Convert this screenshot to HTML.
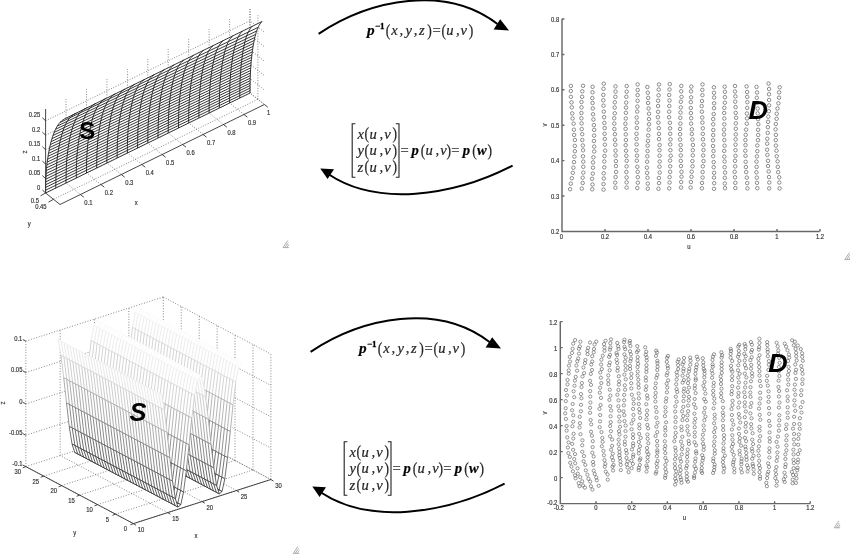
<!DOCTYPE html>
<html><head><meta charset="utf-8"><title>Surface parameterization</title>
<style>html,body{margin:0;padding:0;background:#fff}body{width:850px;height:554px;overflow:hidden;font-family:"Liberation Sans",sans-serif}svg{display:block;will-change:transform;opacity:.999}</style>
</head><body>
<svg width="850" height="554" viewBox="0 0 850 554">
<rect width="850" height="554" fill="#fff"/>
<path d="M66 183L66 99M80.4 194.5L66 183M86.5 173L86.5 89M100.9 184.5L86.5 173M106.9 163L106.9 79M121.3 174.5L106.9 163M127.4 153L127.4 69M141.8 164.5L127.4 153M147.8 143L147.8 59M162.2 154.5L147.8 143M168.2 133L168.2 49M182.6 144.5L168.2 133M188.7 123L188.7 39M203.1 134.5L188.7 123M209.1 113L209.1 29M223.5 124.5L209.1 113M229.6 103L229.6 19M244 114.5L229.6 103M250 93L250 9M264.4 104.5L250 93M45.6 193L250 93L264.4 104.5M45.6 178.6L250 78.5L264.4 90M45.6 164.1L250 64.1L264.4 75.6M45.6 149.7L250 49.7L264.4 61.2M45.6 135.2L250 35.2L264.4 46.7M45.6 120.8L250 20.8L264.4 32.2M250 93L250 9M257.9 99.3L257.9 15.3M53.5 199.3L257.9 99.3" fill="none" stroke="#555" stroke-width=".7" stroke-dasharray="1 1.6"/>
<path d="M45.6 193L45.6 190.7L45.6 188.4L45.6 186.1L45.7 183.9L45.7 181.6L45.8 179.4L45.9 177.2L46 175L46.2 172.8L46.3 170.6L46.5 168.5L46.7 166.3L46.9 164.2L47.2 162.1L47.5 160L47.8 158L48.1 155.9L48.4 153.9L48.8 151.9L49.2 149.9L49.6 147.9L50 146L50.5 144L50.9 142.1L51.5 140.2L52 138.4L52.6 136.6L53.2 134.8L53.9 133L54.6 131.3L55.4 129.6L56.2 128L57.1 126.4L58.1 124.9L59.2 123.4L60.4 122.1L61.7 120.8L63.2 119.7L64.8 118.7L66.6 117.9L262 21.5L260.9 22.7L260 24L259.1 25.4L258.4 26.8L257.7 28.3L257.1 29.8L256.5 31.4L256 33L255.6 34.7L255.1 36.3L254.7 38L254.3 39.8L254 41.5L253.6 43.3L253.3 45L253 46.8L252.8 48.6L252.5 50.4L252.3 52.3L252 54.1L251.8 56L251.6 57.8L251.4 59.7L251.2 61.6L251.1 63.5L250.9 65.4L250.8 67.3L250.6 69.2L250.5 71.1L250.4 73.1L250.3 75L250.2 77L250.2 79L250.1 80.9L250.1 82.9L250 84.9L250 86.9L250 89L250 91L250 93Z" fill="#fff" stroke="none"/>
<path d="M45.6 193L45.6 190.7L45.6 188.4L45.6 186.1L45.7 183.9L45.7 181.6L45.8 179.4L45.9 177.2L46 175L46.2 172.8L46.3 170.6L46.5 168.5L46.7 166.3L46.9 164.2L47.2 162.1L47.5 160L47.8 158L48.1 155.9L48.4 153.9L48.8 151.9L49.2 149.9L49.6 147.9L50 146L50.5 144L50.9 142.1L51.5 140.2L52 138.4L52.6 136.6L53.2 134.8L53.9 133L54.6 131.3L55.4 129.6L56.2 128L57.1 126.4L58.1 124.9L59.2 123.4L60.4 122.1L61.7 120.8L63.2 119.7L64.8 118.7L66.6 117.9M55.8 188L55.8 185.7L55.8 183.4L55.9 181.2L55.9 178.9L56 176.7L56 174.5L56.1 172.3L56.2 170.1L56.4 167.9L56.5 165.7L56.7 163.6L56.9 161.5L57.1 159.4L57.4 157.3L57.6 155.2L57.9 153.1L58.2 151.1L58.6 149.1L58.9 147.1L59.3 145.1L59.7 143.1L60.1 141.2L60.6 139.3L61.1 137.4L61.6 135.5L62.1 133.6L62.7 131.8L63.3 130L63.9 128.2L64.6 126.5L65.4 124.8L66.2 123.2L67.1 121.6L68.1 120.1L69.1 118.7L70.3 117.3L71.6 116.1L73 114.9L74.6 113.9L76.4 113.1M66 183L66 180.7L66.1 178.5L66.1 176.2L66.1 174L66.2 171.8L66.3 169.5L66.3 167.4L66.5 165.2L66.6 163L66.7 160.9L66.9 158.7L67.1 156.6L67.3 154.5L67.6 152.4L67.8 150.4L68.1 148.3L68.4 146.3L68.7 144.3L69.1 142.3L69.4 140.3L69.8 138.4L70.2 136.4L70.7 134.5L71.2 132.6L71.6 130.7L72.2 128.9L72.7 127L73.3 125.3L74 123.5L74.7 121.8L75.4 120.1L76.2 118.5L77.1 116.9L78 115.4L79 113.9L80.2 112.6L81.4 111.3L82.8 110.1L84.4 109.1L86.2 108.3M76.3 178L76.3 175.7L76.3 173.5L76.3 171.3L76.3 169L76.4 166.8L76.5 164.6L76.6 162.4L76.7 160.3L76.8 158.1L76.9 156L77.1 153.9L77.3 151.8L77.5 149.7L77.8 147.6L78 145.5L78.3 143.5L78.6 141.5L78.9 139.5L79.2 137.5L79.6 135.5L80 133.6L80.4 131.6L80.8 129.7L81.3 127.8L81.7 126L82.3 124.1L82.8 122.3L83.4 120.5L84 118.7L84.7 117L85.4 115.3L86.2 113.7L87 112.1L88 110.6L89 109.2L90.1 107.8L91.3 106.5L92.7 105.4L94.2 104.3L95.9 103.4M86.5 173L86.5 170.8L86.5 168.5L86.5 166.3L86.6 164.1L86.6 161.9L86.7 159.7L86.8 157.5L86.9 155.4L87 153.2L87.2 151.1L87.3 149L87.5 146.9L87.7 144.8L87.9 142.8L88.2 140.7L88.5 138.7L88.7 136.7L89.1 134.7L89.4 132.7L89.7 130.7L90.1 128.8L90.5 126.9L90.9 125L91.4 123.1L91.8 121.2L92.3 119.4L92.9 117.5L93.4 115.8L94.1 114L94.7 112.3L95.4 110.6L96.2 109L97 107.4L97.9 105.9L98.9 104.4L100 103L101.2 101.8L102.5 100.6L104 99.5L105.7 98.6M96.7 168L96.7 165.8L96.7 163.6L96.7 161.3L96.8 159.1L96.8 157L96.9 154.8L97 152.6L97.1 150.5L97.2 148.3L97.4 146.2L97.5 144.1L97.7 142L97.9 140L98.1 137.9L98.4 135.9L98.6 133.9L98.9 131.9L99.2 129.9L99.5 127.9L99.9 125.9L100.2 124L100.6 122.1L101 120.2L101.5 118.3L101.9 116.4L102.4 114.6L102.9 112.8L103.5 111L104.1 109.3L104.7 107.5L105.4 105.9L106.2 104.2L107 102.6L107.9 101.1L108.8 99.6L109.9 98.3L111.1 97L112.4 95.8L113.8 94.7L115.5 93.8M106.9 163L106.9 160.8L106.9 158.6L107 156.4L107 154.2L107 152L107.1 149.9L107.2 147.7L107.3 145.6L107.4 143.5L107.6 141.4L107.7 139.3L107.9 137.2L108.1 135.1L108.3 133.1L108.5 131.1L108.8 129.1L109.1 127.1L109.4 125.1L109.7 123.1L110 121.2L110.4 119.2L110.8 117.3L111.1 115.4L111.6 113.5L112 111.7L112.5 109.8L113 108L113.6 106.3L114.1 104.5L114.8 102.8L115.4 101.1L116.2 99.5L116.9 97.9L117.8 96.4L118.7 94.9L119.8 93.5L120.9 92.2L122.2 91L123.6 89.9L125.2 89M117.1 158L117.1 155.8L117.2 153.6L117.2 151.4L117.2 149.2L117.3 147.1L117.3 144.9L117.4 142.8L117.5 140.7L117.6 138.6L117.8 136.5L117.9 134.4L118.1 132.3L118.3 130.3L118.5 128.3L118.7 126.2L119 124.2L119.2 122.2L119.5 120.3L119.8 118.3L120.2 116.4L120.5 114.4L120.9 112.5L121.3 110.6L121.7 108.8L122.1 106.9L122.6 105.1L123.1 103.3L123.6 101.5L124.2 99.8L124.8 98L125.4 96.4L126.1 94.7L126.9 93.1L127.8 91.6L128.7 90.1L129.7 88.7L130.8 87.4L132 86.2L133.4 85.1L135 84.2M127.4 153L127.4 150.8L127.4 148.6L127.4 146.5L127.4 144.3L127.5 142.2L127.5 140L127.6 137.9L127.7 135.8L127.8 133.7L128 131.6L128.1 129.5L128.3 127.5L128.5 125.4L128.7 123.4L128.9 121.4L129.1 119.4L129.4 117.4L129.7 115.5L130 113.5L130.3 111.6L130.6 109.7L131 107.8L131.4 105.9L131.8 104L132.2 102.2L132.7 100.3L133.1 98.5L133.7 96.8L134.2 95L134.8 93.3L135.4 91.6L136.1 90L136.9 88.4L137.7 86.9L138.6 85.4L139.6 84L140.7 82.7L141.9 81.4L143.2 80.3L144.8 79.4M137.6 148L137.6 145.8L137.6 143.7L137.6 141.5L137.6 139.4L137.7 137.2L137.8 135.1L137.8 133L137.9 130.9L138 128.8L138.2 126.7L138.3 124.7L138.5 122.6L138.7 120.6L138.9 118.6L139.1 116.6L139.3 114.6L139.6 112.6L139.8 110.7L140.1 108.7L140.4 106.8L140.8 104.9L141.1 103L141.5 101.1L141.9 99.2L142.3 97.4L142.7 95.6L143.2 93.8L143.7 92L144.3 90.3L144.8 88.5L145.5 86.9L146.1 85.2L146.9 83.6L147.7 82.1L148.5 80.6L149.5 79.2L150.5 77.9L151.7 76.7L153 75.5L154.5 74.5M147.8 143L147.8 140.8L147.8 138.7L147.8 136.5L147.9 134.4L147.9 132.3L148 130.2L148 128.1L148.1 126L148.2 123.9L148.4 121.8L148.5 119.8L148.7 117.8L148.9 115.7L149.1 113.7L149.3 111.8L149.5 109.8L149.7 107.8L150 105.9L150.3 103.9L150.6 102L150.9 100.1L151.3 98.2L151.6 96.3L152 94.5L152.4 92.6L152.8 90.8L153.3 89L153.8 87.3L154.3 85.5L154.9 83.8L155.5 82.1L156.1 80.5L156.8 78.9L157.6 77.3L158.5 75.9L159.4 74.4L160.4 73.1L161.6 71.9L162.8 70.7L164.3 69.7M158 138L158 135.9L158 133.7L158.1 131.6L158.1 129.5L158.1 127.3L158.2 125.2L158.3 123.2L158.4 121.1L158.5 119L158.6 117L158.7 114.9L158.9 112.9L159 110.9L159.2 108.9L159.4 106.9L159.7 105L159.9 103L160.2 101.1L160.4 99.1L160.7 97.2L161 95.3L161.4 93.4L161.7 91.6L162.1 89.7L162.5 87.9L162.9 86.1L163.4 84.3L163.8 82.5L164.3 80.8L164.9 79.1L165.5 77.4L166.1 75.7L166.8 74.1L167.6 72.6L168.4 71.1L169.3 69.7L170.3 68.3L171.4 67.1L172.7 65.9L174.1 64.9M168.2 133L168.2 130.9L168.3 128.7L168.3 126.6L168.3 124.5L168.3 122.4L168.4 120.3L168.5 118.2L168.6 116.2L168.7 114.1L168.8 112.1L168.9 110.1L169.1 108.1L169.2 106.1L169.4 104.1L169.6 102.1L169.8 100.1L170.1 98.2L170.3 96.3L170.6 94.3L170.9 92.4L171.2 90.5L171.5 88.7L171.8 86.8L172.2 84.9L172.6 83.1L173 81.3L173.4 79.5L173.9 77.8L174.4 76L174.9 74.3L175.5 72.6L176.1 71L176.8 69.4L177.5 67.8L178.3 66.3L179.2 64.9L180.2 63.6L181.3 62.3L182.5 61.1L183.8 60.1M178.5 128L178.5 125.9L178.5 123.8L178.5 121.7L178.5 119.6L178.6 117.5L178.6 115.4L178.7 113.3L178.8 111.3L178.9 109.2L179 107.2L179.1 105.2L179.3 103.2L179.4 101.2L179.6 99.2L179.8 97.3L180 95.3L180.2 93.4L180.5 91.5L180.7 89.5L181 87.6L181.3 85.8L181.6 83.9L182 82L182.3 80.2L182.7 78.4L183.1 76.6L183.5 74.8L183.9 73L184.4 71.3L184.9 69.6L185.5 67.9L186.1 66.2L186.7 64.6L187.5 63.1L188.2 61.6L189.1 60.2L190 58.8L191.1 57.5L192.3 56.3L193.6 55.3M188.7 123L188.7 120.9L188.7 118.8L188.7 116.7L188.7 114.6L188.8 112.5L188.8 110.5L188.9 108.4L189 106.4L189.1 104.4L189.2 102.3L189.3 100.3L189.5 98.3L189.6 96.4L189.8 94.4L190 92.4L190.2 90.5L190.4 88.6L190.6 86.6L190.9 84.7L191.2 82.8L191.4 81L191.8 79.1L192.1 77.3L192.4 75.4L192.8 73.6L193.2 71.8L193.6 70L194 68.3L194.5 66.5L195 64.8L195.5 63.1L196.1 61.5L196.7 59.9L197.4 58.3L198.2 56.8L199 55.4L199.9 54L200.9 52.7L202.1 51.5L203.4 50.4M198.9 118L198.9 115.9L198.9 113.8L198.9 111.7L199 109.7L199 107.6L199 105.6L199.1 103.5L199.2 101.5L199.3 99.5L199.4 97.5L199.5 95.5L199.7 93.5L199.8 91.5L200 89.6L200.2 87.6L200.4 85.7L200.6 83.8L200.8 81.8L201 79.9L201.3 78.1L201.6 76.2L201.9 74.3L202.2 72.5L202.5 70.7L202.9 68.8L203.2 67L203.6 65.3L204.1 63.5L204.5 61.8L205 60.1L205.5 58.4L206.1 56.7L206.7 55.1L207.4 53.6L208.1 52.1L208.9 50.6L209.8 49.2L210.8 47.9L211.9 46.7L213.1 45.6M209.1 113L209.1 110.9L209.1 108.8L209.1 106.8L209.2 104.7L209.2 102.7L209.3 100.6L209.3 98.6L209.4 96.6L209.5 94.6L209.6 92.6L209.7 90.6L209.9 88.6L210 86.7L210.2 84.7L210.3 82.8L210.5 80.9L210.7 78.9L211 77L211.2 75.1L211.5 73.3L211.7 71.4L212 69.6L212.3 67.7L212.6 65.9L213 64.1L213.3 62.3L213.7 60.5L214.1 58.8L214.5 57L215 55.3L215.5 53.6L216.1 52L216.7 50.4L217.3 48.8L218 47.3L218.8 45.9L219.7 44.5L220.6 43.2L221.7 41.9L222.9 40.8M219.3 108L219.3 105.9L219.4 103.9L219.4 101.8L219.4 99.8L219.4 97.7L219.5 95.7L219.5 93.7L219.6 91.7L219.7 89.7L219.8 87.7L219.9 85.7L220 83.8L220.2 81.8L220.4 79.9L220.5 78L220.7 76L220.9 74.1L221.1 72.2L221.4 70.4L221.6 68.5L221.9 66.6L222.1 64.8L222.4 62.9L222.7 61.1L223.1 59.3L223.4 57.5L223.8 55.8L224.2 54L224.6 52.3L225 50.6L225.5 48.9L226.1 47.3L226.6 45.6L227.3 44.1L227.9 42.6L228.7 41.1L229.5 39.7L230.5 38.4L231.5 37.1L232.7 36M229.6 103L229.6 100.9L229.6 98.9L229.6 96.9L229.6 94.8L229.6 92.8L229.7 90.8L229.8 88.8L229.8 86.8L229.9 84.8L230 82.8L230.1 80.9L230.2 78.9L230.4 77L230.5 75L230.7 73.1L230.9 71.2L231.1 69.3L231.3 67.4L231.5 65.6L231.7 63.7L232 61.8L232.3 60L232.5 58.2L232.8 56.4L233.1 54.6L233.5 52.8L233.8 51L234.2 49.3L234.6 47.5L235.1 45.8L235.5 44.2L236 42.5L236.6 40.9L237.2 39.3L237.9 37.8L238.6 36.3L239.4 34.9L240.3 33.6L241.3 32.3L242.4 31.2M239.8 98L239.8 96L239.8 93.9L239.8 91.9L239.8 89.9L239.9 87.9L239.9 85.9L240 83.9L240 81.9L240.1 79.9L240.2 78L240.3 76L240.4 74.1L240.6 72.1L240.7 70.2L240.9 68.3L241.1 66.4L241.2 64.5L241.4 62.6L241.7 60.8L241.9 58.9L242.1 57.1L242.4 55.2L242.6 53.4L242.9 51.6L243.2 49.8L243.6 48L243.9 46.3L244.3 44.5L244.7 42.8L245.1 41.1L245.5 39.4L246 37.8L246.6 36.2L247.2 34.6L247.8 33L248.5 31.6L249.3 30.2L250.1 28.8L251.1 27.5L252.2 26.4M250 93L250 91L250 89L250 86.9L250 84.9L250.1 82.9L250.1 80.9L250.2 79L250.2 77L250.3 75L250.4 73.1L250.5 71.1L250.6 69.2L250.8 67.3L250.9 65.4L251.1 63.5L251.2 61.6L251.4 59.7L251.6 57.8L251.8 56L252 54.1L252.3 52.3L252.5 50.4L252.8 48.6L253 46.8L253.3 45L253.6 43.3L254 41.5L254.3 39.8L254.7 38L255.1 36.3L255.6 34.7L256 33L256.5 31.4L257.1 29.8L257.7 28.3L258.4 26.8L259.1 25.4L260 24L260.9 22.7L262 21.5M45.6 193L250 93M45.6 190.2L250 90.6M45.6 187.4L250 88.1M45.7 184.7L250 85.6M45.7 181.9L250.1 83.2M45.8 179.1L250.1 80.7M46 176.3L250.2 78.2M46.1 173.5L250.3 75.6M46.3 170.6L250.4 73.1M46.6 167.8L250.6 70.5M46.9 164.9L250.7 67.9M47.2 162.1L250.9 65.3M47.6 159.2L251.1 62.7M48 156.3L251.4 60M48.5 153.4L251.6 57.4M49 150.5L252 54.7M49.7 147.5L252.3 51.9M50.3 144.6L252.7 49.1M51.1 141.6L253.1 46.3M52 138.6L253.6 43.4M52.9 135.5L254.2 40.5M54.1 132.4L254.8 37.5M55.5 129.3L255.6 34.4M57.4 126L256.7 31M60 122.5L258.2 27.3M66.6 117.9L262 21.5" fill="none" stroke="#1c1c1c" stroke-width=".88"/>
<path d="M45.6 109L45.6 193L60 204.5L264.4 104.5M45.6 193l-3.2 -3M45.6 178.6l-3.2 -3M45.6 164.1l-3.2 -3M45.6 149.7l-3.2 -3M45.6 135.2l-3.2 -3M45.6 120.8l-3.2 -3M80.4 194.5l3.4 2.7M100.9 184.5l3.4 2.7M121.3 174.5l3.4 2.7M141.8 164.5l3.4 2.7M162.2 154.5l3.4 2.7M182.6 144.5l3.4 2.7M203.1 134.5l3.4 2.7M223.5 124.5l3.4 2.7M244 114.5l3.4 2.7M264.4 104.5l3.4 2.7M45.6 193l-5 2.8M53.5 199.3l-5 2.8" fill="none" stroke="#333" stroke-width=".9"/>
<g font-family="Liberation Sans, sans-serif" font-size="7" fill="#333" stroke="#333" stroke-width=".18">
<text transform="translate(40.2,189.6) scale(0.84,1)" text-anchor="end">0</text>
<text transform="translate(40.2,175.2) scale(0.84,1)" text-anchor="end">0.05</text>
<text transform="translate(40.2,160.7) scale(0.84,1)" text-anchor="end">0.1</text>
<text transform="translate(40.2,146.2) scale(0.84,1)" text-anchor="end">0.15</text>
<text transform="translate(40.2,131.8) scale(0.84,1)" text-anchor="end">0.2</text>
<text transform="translate(40.2,117.3) scale(0.84,1)" text-anchor="end">0.25</text>
<text transform="translate(88.4,204.7) scale(0.84,1)" text-anchor="middle">0.1</text>
<text transform="translate(108.9,194.7) scale(0.84,1)" text-anchor="middle">0.2</text>
<text transform="translate(129.3,184.7) scale(0.84,1)" text-anchor="middle">0.3</text>
<text transform="translate(149.8,174.7) scale(0.84,1)" text-anchor="middle">0.4</text>
<text transform="translate(170.2,164.7) scale(0.84,1)" text-anchor="middle">0.5</text>
<text transform="translate(190.6,154.7) scale(0.84,1)" text-anchor="middle">0.6</text>
<text transform="translate(211.1,144.7) scale(0.84,1)" text-anchor="middle">0.7</text>
<text transform="translate(231.5,134.7) scale(0.84,1)" text-anchor="middle">0.8</text>
<text transform="translate(252,124.7) scale(0.84,1)" text-anchor="middle">0.9</text>
<text transform="translate(268.6,114.7) scale(0.84,1)" text-anchor="middle">1</text>
<text transform="translate(39,202.6) scale(0.84,1)" text-anchor="end">0.5</text>
<text transform="translate(46.6,209) scale(0.84,1)" text-anchor="end">0.45</text>
<text transform="translate(136.2,204.6) scale(0.84,1)" text-anchor="middle">x</text>
<text transform="translate(29.3,226.4) scale(0.84,1)" text-anchor="middle">y</text>
<text transform="translate(26.5,152) rotate(-90) scale(0.84,1)" text-anchor="middle">z</text>
</g>
<text x="79.3" y="139" font-family="Liberation Sans, sans-serif" font-size="24" font-weight="bold" fill="#000">S</text>
<path d="M562 18.8L562 231.4L819.6 231.4M562 231.4l0 -2.4M562 231.4l2.4 0M605 231.4l0 -2.4M562 196l2.4 0M648 231.4l0 -2.4M562 160.6l2.4 0M691 231.4l0 -2.4M562 125.2l2.4 0M734 231.4l0 -2.4M562 89.8l2.4 0M777 231.4l0 -2.4M562 54.4l2.4 0M820 231.4l0 -2.4M562 19l2.4 0" fill="none" stroke="#686868" stroke-width="1.45"/>
<g font-family="Liberation Sans, sans-serif" font-size="7" fill="#333" stroke="#333" stroke-width=".18">
<text transform="translate(561.4,239.4) scale(0.84,1)" text-anchor="middle">0</text>
<text transform="translate(605,239.4) scale(0.84,1)" text-anchor="middle">0.2</text>
<text transform="translate(648,239.4) scale(0.84,1)" text-anchor="middle">0.4</text>
<text transform="translate(691,239.4) scale(0.84,1)" text-anchor="middle">0.6</text>
<text transform="translate(734,239.4) scale(0.84,1)" text-anchor="middle">0.8</text>
<text transform="translate(777,239.4) scale(0.84,1)" text-anchor="middle">1</text>
<text transform="translate(820,239.4) scale(0.84,1)" text-anchor="middle">1.2</text>
<text transform="translate(559.2,234) scale(0.84,1)" text-anchor="end">0.2</text>
<text transform="translate(559.2,198.6) scale(0.84,1)" text-anchor="end">0.3</text>
<text transform="translate(559.2,163.2) scale(0.84,1)" text-anchor="end">0.4</text>
<text transform="translate(559.2,127.8) scale(0.84,1)" text-anchor="end">0.5</text>
<text transform="translate(559.2,92.4) scale(0.84,1)" text-anchor="end">0.6</text>
<text transform="translate(559.2,57) scale(0.84,1)" text-anchor="end">0.7</text>
<text transform="translate(559.2,21.6) scale(0.84,1)" text-anchor="end">0.8</text>
<text transform="translate(689,249) scale(0.84,1)" text-anchor="middle">u</text>
<text transform="translate(546.5,125) rotate(-90) scale(0.84,1)" text-anchor="middle">v</text>
</g>
<g fill="none" stroke="#5e5e5e" stroke-width="0.7">
<circle cx="570.9" cy="85.9" r="1.75"/><circle cx="570.8" cy="91" r="1.75"/><circle cx="570.9" cy="96.8" r="1.75"/><circle cx="571.5" cy="102.4" r="1.75"/><circle cx="571.8" cy="107.4" r="1.75"/><circle cx="572.2" cy="113.4" r="1.75"/><circle cx="572.6" cy="118.5" r="1.75"/><circle cx="573.6" cy="123.7" r="1.75"/><circle cx="573.9" cy="129.7" r="1.75"/><circle cx="574.1" cy="134.9" r="1.75"/><circle cx="574.9" cy="140" r="1.75"/><circle cx="574.8" cy="145.9" r="1.75"/><circle cx="574.9" cy="151.2" r="1.75"/><circle cx="574.4" cy="156.6" r="1.75"/><circle cx="574" cy="162.1" r="1.75"/><circle cx="573.4" cy="167.7" r="1.75"/><circle cx="572.8" cy="172.8" r="1.75"/><circle cx="571.8" cy="178.2" r="1.75"/><circle cx="570.8" cy="183.7" r="1.75"/><circle cx="570.1" cy="189.2" r="1.75"/><circle cx="583" cy="85.8" r="1.75"/><circle cx="582.3" cy="91.3" r="1.75"/><circle cx="582.1" cy="96.8" r="1.75"/><circle cx="581.5" cy="102" r="1.75"/><circle cx="581.5" cy="107.4" r="1.75"/><circle cx="581.4" cy="113" r="1.75"/><circle cx="581.4" cy="118.3" r="1.75"/><circle cx="581.6" cy="123.4" r="1.75"/><circle cx="581.7" cy="129.1" r="1.75"/><circle cx="582.2" cy="134.2" r="1.75"/><circle cx="582.3" cy="140" r="1.75"/><circle cx="582.8" cy="145.5" r="1.75"/><circle cx="583.1" cy="150.3" r="1.75"/><circle cx="583" cy="156.3" r="1.75"/><circle cx="583.3" cy="161.6" r="1.75"/><circle cx="583.3" cy="166.8" r="1.75"/><circle cx="583.3" cy="172.6" r="1.75"/><circle cx="582.7" cy="177.7" r="1.75"/><circle cx="582.7" cy="183" r="1.75"/><circle cx="581.8" cy="188.6" r="1.75"/><circle cx="592.6" cy="86.8" r="1.75"/><circle cx="592.5" cy="92.3" r="1.75"/><circle cx="592.3" cy="98.1" r="1.75"/><circle cx="592.6" cy="103" r="1.75"/><circle cx="592.8" cy="108.4" r="1.75"/><circle cx="593" cy="114.3" r="1.75"/><circle cx="593.4" cy="119.5" r="1.75"/><circle cx="593.9" cy="125.1" r="1.75"/><circle cx="594.2" cy="129.9" r="1.75"/><circle cx="594.1" cy="135.6" r="1.75"/><circle cx="593.9" cy="141" r="1.75"/><circle cx="594.2" cy="146.6" r="1.75"/><circle cx="594.2" cy="151.5" r="1.75"/><circle cx="593.4" cy="157.3" r="1.75"/><circle cx="593" cy="162.4" r="1.75"/><circle cx="593" cy="167.7" r="1.75"/><circle cx="592.8" cy="173.6" r="1.75"/><circle cx="592.1" cy="178.8" r="1.75"/><circle cx="592.5" cy="184.5" r="1.75"/><circle cx="592.2" cy="189.3" r="1.75"/><circle cx="603.8" cy="83.7" r="1.75"/><circle cx="603.5" cy="88.8" r="1.75"/><circle cx="603.3" cy="94.9" r="1.75"/><circle cx="603.3" cy="100.3" r="1.75"/><circle cx="603.5" cy="105.7" r="1.75"/><circle cx="603.8" cy="111.6" r="1.75"/><circle cx="604.1" cy="117.2" r="1.75"/><circle cx="604.4" cy="122.9" r="1.75"/><circle cx="604.7" cy="128.1" r="1.75"/><circle cx="604.6" cy="133.8" r="1.75"/><circle cx="604.8" cy="139" r="1.75"/><circle cx="604.9" cy="144.7" r="1.75"/><circle cx="605.2" cy="150.6" r="1.75"/><circle cx="604.5" cy="156.1" r="1.75"/><circle cx="604.3" cy="161.5" r="1.75"/><circle cx="604.3" cy="167.3" r="1.75"/><circle cx="603.7" cy="173.3" r="1.75"/><circle cx="603.8" cy="178.5" r="1.75"/><circle cx="603.5" cy="184.1" r="1.75"/><circle cx="603.5" cy="189.6" r="1.75"/><circle cx="615.5" cy="86.4" r="1.75"/><circle cx="615.5" cy="91.6" r="1.75"/><circle cx="615.4" cy="96.8" r="1.75"/><circle cx="614.8" cy="102.3" r="1.75"/><circle cx="614.7" cy="107.5" r="1.75"/><circle cx="614.8" cy="113.3" r="1.75"/><circle cx="614.2" cy="118.3" r="1.75"/><circle cx="614.3" cy="123.6" r="1.75"/><circle cx="614.4" cy="129" r="1.75"/><circle cx="614.9" cy="134.2" r="1.75"/><circle cx="615" cy="139.7" r="1.75"/><circle cx="615.3" cy="144.7" r="1.75"/><circle cx="615.5" cy="150.6" r="1.75"/><circle cx="615.7" cy="155.5" r="1.75"/><circle cx="615.9" cy="161.1" r="1.75"/><circle cx="615.9" cy="166" r="1.75"/><circle cx="616.1" cy="171.9" r="1.75"/><circle cx="615.6" cy="177" r="1.75"/><circle cx="615.2" cy="182.6" r="1.75"/><circle cx="615.4" cy="187.7" r="1.75"/><circle cx="626.7" cy="86.1" r="1.75"/><circle cx="626.7" cy="91.7" r="1.75"/><circle cx="626.3" cy="96.8" r="1.75"/><circle cx="626.2" cy="102.6" r="1.75"/><circle cx="626" cy="107.6" r="1.75"/><circle cx="625.9" cy="112.8" r="1.75"/><circle cx="625.8" cy="118.5" r="1.75"/><circle cx="625.4" cy="123.8" r="1.75"/><circle cx="625.6" cy="128.9" r="1.75"/><circle cx="625.8" cy="134.4" r="1.75"/><circle cx="625.9" cy="140" r="1.75"/><circle cx="625.7" cy="145.2" r="1.75"/><circle cx="626" cy="150.7" r="1.75"/><circle cx="626.3" cy="155.8" r="1.75"/><circle cx="626.7" cy="160.8" r="1.75"/><circle cx="626.6" cy="166.4" r="1.75"/><circle cx="626.4" cy="172" r="1.75"/><circle cx="626.6" cy="177.4" r="1.75"/><circle cx="626.6" cy="182.4" r="1.75"/><circle cx="626.6" cy="187.6" r="1.75"/><circle cx="637.6" cy="84.4" r="1.75"/><circle cx="637.7" cy="90" r="1.75"/><circle cx="637.6" cy="95.1" r="1.75"/><circle cx="637.6" cy="100.8" r="1.75"/><circle cx="637.4" cy="106.6" r="1.75"/><circle cx="637.2" cy="111.5" r="1.75"/><circle cx="636.7" cy="117.5" r="1.75"/><circle cx="636.9" cy="122.6" r="1.75"/><circle cx="636.8" cy="128" r="1.75"/><circle cx="636.5" cy="133.8" r="1.75"/><circle cx="636.5" cy="138.9" r="1.75"/><circle cx="636.6" cy="144.4" r="1.75"/><circle cx="636.4" cy="150.3" r="1.75"/><circle cx="637" cy="155.6" r="1.75"/><circle cx="636.8" cy="160.7" r="1.75"/><circle cx="637.3" cy="166.8" r="1.75"/><circle cx="637.7" cy="171.8" r="1.75"/><circle cx="637.8" cy="177.2" r="1.75"/><circle cx="637.8" cy="182.7" r="1.75"/><circle cx="637.3" cy="188" r="1.75"/><circle cx="647.4" cy="87" r="1.75"/><circle cx="647.8" cy="92.7" r="1.75"/><circle cx="648.2" cy="97.9" r="1.75"/><circle cx="648.1" cy="103" r="1.75"/><circle cx="648.6" cy="108.5" r="1.75"/><circle cx="649" cy="113.7" r="1.75"/><circle cx="649" cy="119.1" r="1.75"/><circle cx="649" cy="124.3" r="1.75"/><circle cx="648.7" cy="129.6" r="1.75"/><circle cx="648.2" cy="135.5" r="1.75"/><circle cx="648" cy="140.8" r="1.75"/><circle cx="647.7" cy="145.6" r="1.75"/><circle cx="647.6" cy="151" r="1.75"/><circle cx="647.3" cy="156.3" r="1.75"/><circle cx="647.1" cy="161.7" r="1.75"/><circle cx="646.9" cy="167.6" r="1.75"/><circle cx="647.1" cy="172.8" r="1.75"/><circle cx="647.5" cy="177.7" r="1.75"/><circle cx="647.8" cy="183.6" r="1.75"/><circle cx="647.8" cy="188.7" r="1.75"/><circle cx="659" cy="84.5" r="1.75"/><circle cx="658.7" cy="89.6" r="1.75"/><circle cx="658.6" cy="95.3" r="1.75"/><circle cx="658.1" cy="100.7" r="1.75"/><circle cx="658.1" cy="106" r="1.75"/><circle cx="658.1" cy="111.8" r="1.75"/><circle cx="657.9" cy="117.2" r="1.75"/><circle cx="658.4" cy="122.7" r="1.75"/><circle cx="658.8" cy="128.2" r="1.75"/><circle cx="659" cy="133.9" r="1.75"/><circle cx="659" cy="139.1" r="1.75"/><circle cx="659.6" cy="145.1" r="1.75"/><circle cx="659.5" cy="150.2" r="1.75"/><circle cx="659.6" cy="155.7" r="1.75"/><circle cx="659.7" cy="161.5" r="1.75"/><circle cx="659.5" cy="166.7" r="1.75"/><circle cx="659.7" cy="172.5" r="1.75"/><circle cx="658.9" cy="178" r="1.75"/><circle cx="659" cy="183.1" r="1.75"/><circle cx="658.5" cy="188.8" r="1.75"/><circle cx="669.8" cy="84.1" r="1.75"/><circle cx="669.5" cy="89.5" r="1.75"/><circle cx="669.2" cy="95" r="1.75"/><circle cx="669.5" cy="100.5" r="1.75"/><circle cx="669.3" cy="106" r="1.75"/><circle cx="669.2" cy="111.7" r="1.75"/><circle cx="669.1" cy="117.2" r="1.75"/><circle cx="669.9" cy="122.8" r="1.75"/><circle cx="670.1" cy="128.3" r="1.75"/><circle cx="670.2" cy="133.8" r="1.75"/><circle cx="670.5" cy="139.4" r="1.75"/><circle cx="670.2" cy="144.4" r="1.75"/><circle cx="670.4" cy="150.2" r="1.75"/><circle cx="670.7" cy="155.7" r="1.75"/><circle cx="670.1" cy="160.6" r="1.75"/><circle cx="670.2" cy="166.3" r="1.75"/><circle cx="670.1" cy="171.8" r="1.75"/><circle cx="669.6" cy="177.1" r="1.75"/><circle cx="669.6" cy="182.5" r="1.75"/><circle cx="669.2" cy="188.4" r="1.75"/><circle cx="681.3" cy="85.9" r="1.75"/><circle cx="681.2" cy="91.3" r="1.75"/><circle cx="681.5" cy="96.9" r="1.75"/><circle cx="680.8" cy="101.8" r="1.75"/><circle cx="680.8" cy="107.4" r="1.75"/><circle cx="680.5" cy="112.5" r="1.75"/><circle cx="680.3" cy="117.8" r="1.75"/><circle cx="680.4" cy="123.6" r="1.75"/><circle cx="680.1" cy="128.9" r="1.75"/><circle cx="680.1" cy="134.2" r="1.75"/><circle cx="680.1" cy="139.5" r="1.75"/><circle cx="680.6" cy="145.1" r="1.75"/><circle cx="680.8" cy="150" r="1.75"/><circle cx="680.8" cy="155.5" r="1.75"/><circle cx="680.8" cy="160.9" r="1.75"/><circle cx="681" cy="166.1" r="1.75"/><circle cx="681.5" cy="171.8" r="1.75"/><circle cx="681.5" cy="176.7" r="1.75"/><circle cx="681.2" cy="182" r="1.75"/><circle cx="681" cy="187.5" r="1.75"/><circle cx="691.3" cy="86.6" r="1.75"/><circle cx="691" cy="91.4" r="1.75"/><circle cx="691.1" cy="97.3" r="1.75"/><circle cx="690.8" cy="102.1" r="1.75"/><circle cx="690.8" cy="108" r="1.75"/><circle cx="690.9" cy="113.1" r="1.75"/><circle cx="691.2" cy="118.2" r="1.75"/><circle cx="691.1" cy="123.6" r="1.75"/><circle cx="691.9" cy="129.3" r="1.75"/><circle cx="691.8" cy="134" r="1.75"/><circle cx="692.4" cy="139.5" r="1.75"/><circle cx="692.9" cy="145" r="1.75"/><circle cx="692.8" cy="150.2" r="1.75"/><circle cx="692.8" cy="155.4" r="1.75"/><circle cx="692.4" cy="161.1" r="1.75"/><circle cx="692.5" cy="166.3" r="1.75"/><circle cx="691.7" cy="171.7" r="1.75"/><circle cx="691.5" cy="176.8" r="1.75"/><circle cx="690.9" cy="182" r="1.75"/><circle cx="690.6" cy="187.6" r="1.75"/><circle cx="702.5" cy="84.4" r="1.75"/><circle cx="702.3" cy="89.9" r="1.75"/><circle cx="702.4" cy="95.2" r="1.75"/><circle cx="702" cy="101" r="1.75"/><circle cx="701.7" cy="106.1" r="1.75"/><circle cx="701.9" cy="111.7" r="1.75"/><circle cx="702.2" cy="117.5" r="1.75"/><circle cx="702.4" cy="122.6" r="1.75"/><circle cx="702.8" cy="128.3" r="1.75"/><circle cx="702.8" cy="133.9" r="1.75"/><circle cx="703" cy="139.3" r="1.75"/><circle cx="703.4" cy="144.7" r="1.75"/><circle cx="703.5" cy="150" r="1.75"/><circle cx="703.2" cy="155.5" r="1.75"/><circle cx="703.5" cy="161.1" r="1.75"/><circle cx="702.8" cy="166.3" r="1.75"/><circle cx="702.6" cy="172" r="1.75"/><circle cx="702.6" cy="177.5" r="1.75"/><circle cx="702" cy="182.9" r="1.75"/><circle cx="701.9" cy="188.3" r="1.75"/><circle cx="713.9" cy="87.3" r="1.75"/><circle cx="714" cy="92.8" r="1.75"/><circle cx="714.1" cy="97.5" r="1.75"/><circle cx="714.1" cy="103.3" r="1.75"/><circle cx="714" cy="108.2" r="1.75"/><circle cx="713.7" cy="114.1" r="1.75"/><circle cx="713.2" cy="119.1" r="1.75"/><circle cx="713.2" cy="124.3" r="1.75"/><circle cx="713.3" cy="130" r="1.75"/><circle cx="713.2" cy="135.1" r="1.75"/><circle cx="713" cy="140.3" r="1.75"/><circle cx="713" cy="146" r="1.75"/><circle cx="713.5" cy="151" r="1.75"/><circle cx="713.2" cy="156.2" r="1.75"/><circle cx="713.7" cy="162.1" r="1.75"/><circle cx="713.7" cy="167.2" r="1.75"/><circle cx="714.1" cy="172.8" r="1.75"/><circle cx="714" cy="177.6" r="1.75"/><circle cx="714.2" cy="183.2" r="1.75"/><circle cx="714" cy="188.8" r="1.75"/><circle cx="724.7" cy="86.7" r="1.75"/><circle cx="724.9" cy="91.8" r="1.75"/><circle cx="724.9" cy="97.2" r="1.75"/><circle cx="724.9" cy="102.7" r="1.75"/><circle cx="724.3" cy="107.8" r="1.75"/><circle cx="724.2" cy="113" r="1.75"/><circle cx="724.3" cy="118.5" r="1.75"/><circle cx="724.3" cy="124.3" r="1.75"/><circle cx="724" cy="129.6" r="1.75"/><circle cx="724" cy="134.5" r="1.75"/><circle cx="724.3" cy="140.1" r="1.75"/><circle cx="724.6" cy="145.7" r="1.75"/><circle cx="724.2" cy="150.9" r="1.75"/><circle cx="724.3" cy="156.6" r="1.75"/><circle cx="724.6" cy="161.5" r="1.75"/><circle cx="724.6" cy="167.2" r="1.75"/><circle cx="725.1" cy="172.5" r="1.75"/><circle cx="724.8" cy="177.8" r="1.75"/><circle cx="724.8" cy="183.5" r="1.75"/><circle cx="725" cy="188.2" r="1.75"/><circle cx="735" cy="86" r="1.75"/><circle cx="735" cy="91.5" r="1.75"/><circle cx="735.4" cy="96.4" r="1.75"/><circle cx="735.2" cy="101.7" r="1.75"/><circle cx="735.6" cy="107.1" r="1.75"/><circle cx="735.7" cy="112.9" r="1.75"/><circle cx="736.1" cy="117.8" r="1.75"/><circle cx="735.8" cy="123.4" r="1.75"/><circle cx="735.8" cy="128.8" r="1.75"/><circle cx="735.8" cy="134.4" r="1.75"/><circle cx="735.6" cy="139.4" r="1.75"/><circle cx="735.5" cy="144.7" r="1.75"/><circle cx="735.5" cy="150.2" r="1.75"/><circle cx="735.5" cy="155.9" r="1.75"/><circle cx="735" cy="160.8" r="1.75"/><circle cx="735.2" cy="166.4" r="1.75"/><circle cx="734.7" cy="171.8" r="1.75"/><circle cx="735" cy="177.3" r="1.75"/><circle cx="735.3" cy="182.8" r="1.75"/><circle cx="735.3" cy="188.1" r="1.75"/><circle cx="746.6" cy="86.4" r="1.75"/><circle cx="747.1" cy="92" r="1.75"/><circle cx="747.2" cy="96.9" r="1.75"/><circle cx="747.3" cy="102.2" r="1.75"/><circle cx="747.2" cy="107.9" r="1.75"/><circle cx="746.9" cy="113.5" r="1.75"/><circle cx="747" cy="118.4" r="1.75"/><circle cx="746.8" cy="123.7" r="1.75"/><circle cx="746.1" cy="129.6" r="1.75"/><circle cx="745.7" cy="134.8" r="1.75"/><circle cx="745.4" cy="140" r="1.75"/><circle cx="745.5" cy="145.1" r="1.75"/><circle cx="745.3" cy="150.7" r="1.75"/><circle cx="745.5" cy="155.8" r="1.75"/><circle cx="745.7" cy="161.8" r="1.75"/><circle cx="745.9" cy="167" r="1.75"/><circle cx="746.2" cy="172.1" r="1.75"/><circle cx="746.8" cy="177.6" r="1.75"/><circle cx="747.2" cy="183.1" r="1.75"/><circle cx="747.4" cy="188.4" r="1.75"/><circle cx="756.5" cy="86.9" r="1.75"/><circle cx="757" cy="92.5" r="1.75"/><circle cx="756.8" cy="97.8" r="1.75"/><circle cx="757.1" cy="103" r="1.75"/><circle cx="757.7" cy="108.5" r="1.75"/><circle cx="757.7" cy="113.4" r="1.75"/><circle cx="758.1" cy="119.2" r="1.75"/><circle cx="758.3" cy="124.2" r="1.75"/><circle cx="758.1" cy="129.8" r="1.75"/><circle cx="758.2" cy="135" r="1.75"/><circle cx="758" cy="140.2" r="1.75"/><circle cx="757.3" cy="145.5" r="1.75"/><circle cx="757.3" cy="151.2" r="1.75"/><circle cx="756.9" cy="156.4" r="1.75"/><circle cx="756.5" cy="161.6" r="1.75"/><circle cx="756.6" cy="166.9" r="1.75"/><circle cx="756.4" cy="172.3" r="1.75"/><circle cx="756.8" cy="177.6" r="1.75"/><circle cx="757" cy="182.8" r="1.75"/><circle cx="757.3" cy="188.2" r="1.75"/><circle cx="768.6" cy="83.6" r="1.75"/><circle cx="769.1" cy="89" r="1.75"/><circle cx="769" cy="94.3" r="1.75"/><circle cx="769.1" cy="100" r="1.75"/><circle cx="769.1" cy="105.4" r="1.75"/><circle cx="768.9" cy="111.2" r="1.75"/><circle cx="768.3" cy="116.6" r="1.75"/><circle cx="768.1" cy="121.8" r="1.75"/><circle cx="767.9" cy="127.2" r="1.75"/><circle cx="767.7" cy="132.9" r="1.75"/><circle cx="767.3" cy="138.8" r="1.75"/><circle cx="767.2" cy="143.7" r="1.75"/><circle cx="767.1" cy="149.7" r="1.75"/><circle cx="767.4" cy="154.9" r="1.75"/><circle cx="768" cy="160.8" r="1.75"/><circle cx="768" cy="166" r="1.75"/><circle cx="768.7" cy="171.5" r="1.75"/><circle cx="769" cy="177.1" r="1.75"/><circle cx="769.3" cy="182.5" r="1.75"/><circle cx="769.2" cy="188.4" r="1.75"/><circle cx="779.7" cy="87.3" r="1.75"/><circle cx="779.1" cy="92.4" r="1.75"/><circle cx="779" cy="97.7" r="1.75"/><circle cx="778.4" cy="103.3" r="1.75"/><circle cx="777.5" cy="108.5" r="1.75"/><circle cx="776.7" cy="113.7" r="1.75"/><circle cx="776.6" cy="118.8" r="1.75"/><circle cx="775.8" cy="124" r="1.75"/><circle cx="775.6" cy="129.4" r="1.75"/><circle cx="775.9" cy="134.9" r="1.75"/><circle cx="775.8" cy="140.1" r="1.75"/><circle cx="775.9" cy="145.6" r="1.75"/><circle cx="776.5" cy="150.7" r="1.75"/><circle cx="776.7" cy="156.3" r="1.75"/><circle cx="777.6" cy="161.4" r="1.75"/><circle cx="777.8" cy="166.9" r="1.75"/><circle cx="778.2" cy="172.2" r="1.75"/><circle cx="779.2" cy="177.3" r="1.75"/><circle cx="779.3" cy="182.5" r="1.75"/><circle cx="779.6" cy="188.4" r="1.75"/>
</g>
<text transform="translate(748.4,118.8) scale(1.08,1)" font-family="Liberation Sans, sans-serif" font-size="25" font-weight="bold" font-style="italic" fill="#000">D</text>
<path d="M25.8 466.6L163.3 422.5M163.3 422.5L270.9 479.5M25.8 435.2L163.3 391.1M163.3 391.1L270.9 448.1M25.8 403.9L163.3 359.8M163.3 359.8L270.9 416.8M25.8 372.5L163.3 328.4M163.3 328.4L270.9 385.4M25.8 341.1L163.3 297M163.3 297L270.9 354M25.8 466.6L25.8 341.1M133.4 523.6L25.8 466.6M60.2 455.6L60.2 330.1M167.8 512.6L60.2 455.6M94.5 444.6L94.5 319.1M202.2 501.6L94.5 444.6M128.9 433.5L128.9 308M236.5 490.5L128.9 433.5M163.3 422.5L163.3 297M270.9 479.5L163.3 422.5M270.9 479.5L270.9 354M133.4 523.6L270.9 479.5M253 470L253 344.5M115.5 514.1L253 470M235 460.5L235 335M97.5 504.6L235 460.5M217.1 451L217.1 325.5M79.6 495.1L217.1 451M199.2 441.5L199.2 316M61.7 485.6L199.2 441.5M181.2 432L181.2 306.5M43.7 476.1L181.2 432" fill="none" stroke="#555" stroke-width=".7" stroke-dasharray="1 1.7"/>
<path d="M238.5 367L241.3 362.1L138 307.3L135.2 312.3Z" fill="#fff"/>
<path d="M241.3 362.1L138 307.3" stroke="#fafafa" stroke-width=".78" fill="none"/>
<path d="M238.5 367L241.3 362.1M235.6 365.5L238.3 360.5M232.6 363.9L235.4 358.9M229.7 362.3L232.4 357.4M226.7 360.8L229.5 355.8M223.8 359.2L226.5 354.2M220.8 357.6L223.6 352.7M217.9 356.1L220.6 351.1M214.9 354.5L217.7 349.6M212 353L214.7 348M209 351.4L211.8 346.4M206.1 349.8L208.8 344.9M203.1 348.3L205.9 343.3M200.2 346.7L202.9 341.7M197.2 345.1L200 340.2M194.2 343.6L197 338.6M191.3 342L194 337.1M188.3 340.5L191.1 335.5M185.4 338.9L188.1 333.9M182.4 337.3L185.2 332.4M179.5 335.8L182.2 330.8M176.5 334.2L179.3 329.2M173.6 332.6L176.3 327.7M170.6 331.1L173.4 326.1M167.7 329.5L170.4 324.5M164.7 327.9L167.5 323M161.8 326.4L164.5 321.4M158.8 324.8L161.6 319.9M155.9 323.3L158.6 318.3M152.9 321.7L155.7 316.7M150 320.1L152.7 315.2M147 318.6L149.8 313.6M144.1 317L146.8 312M141.1 315.4L143.9 310.5M138.2 313.9L140.9 308.9M135.2 312.3L138 307.3" stroke="#f6f6f6" stroke-width=".78" fill="none"/>
<path d="M238.5 367L135.2 312.3" stroke="#f3f3f3" stroke-width=".78" fill="none"/>
<path d="M235.8 382.1L238.5 367L135.2 312.3L132.5 327.4Z" fill="#fff"/>
<path d="M238.5 367L135.2 312.3" stroke="#f3f3f3" stroke-width=".78" fill="none"/>
<path d="M235.8 382.1L238.5 367M232.8 380.6L235.6 365.5M229.9 379L232.6 363.9M226.9 377.4L229.7 362.3M224 375.9L226.7 360.8M221 374.3L223.8 359.2M218.1 372.7L220.8 357.6M215.1 371.2L217.9 356.1M212.2 369.6L214.9 354.5M209.2 368.1L212 353M206.3 366.5L209 351.4M203.3 364.9L206.1 349.8M200.4 363.4L203.1 348.3M197.4 361.8L200.2 346.7M194.5 360.2L197.2 345.1M191.5 358.7L194.2 343.6M188.5 357.1L191.3 342M185.6 355.5L188.3 340.5M182.6 354L185.4 338.9M179.7 352.4L182.4 337.3M176.7 350.9L179.5 335.8M173.8 349.3L176.5 334.2M170.8 347.7L173.6 332.6M167.9 346.2L170.6 331.1M164.9 344.6L167.7 329.5M162 343L164.7 327.9M159 341.5L161.8 326.4M156.1 339.9L158.8 324.8M153.1 338.3L155.9 323.3M150.2 336.8L152.9 321.7M147.2 335.2L150 320.1M144.3 333.7L147 318.6M141.3 332.1L144.1 317M138.4 330.5L141.1 315.4M135.4 329L138.2 313.9M132.5 327.4L135.2 312.3" stroke="#e7e7e7" stroke-width=".78" fill="none"/>
<path d="M235.8 382.1L132.5 327.4" stroke="#dbdbdb" stroke-width=".78" fill="none"/>
<path d="M233 404.9L235.8 382.1L132.5 327.4L129.7 350.2Z" fill="#fff"/>
<path d="M235.8 382.1L132.5 327.4" stroke="#dbdbdb" stroke-width=".78" fill="none"/>
<path d="M233 404.9L235.8 382.1M230.1 403.3L232.8 380.6M227.1 401.8L229.9 379M224.2 400.2L226.9 377.4M221.2 398.6L224 375.9M218.3 397.1L221 374.3M215.3 395.5L218.1 372.7M212.4 393.9L215.1 371.2M209.4 392.4L212.2 369.6M206.5 390.8L209.2 368.1M203.5 389.3L206.3 366.5M200.6 387.7L203.3 364.9M197.6 386.1L200.4 363.4M194.7 384.6L197.4 361.8M191.7 383L194.5 360.2M188.7 381.4L191.5 358.7M185.8 379.9L188.5 357.1M182.8 378.3L185.6 355.5M179.9 376.7L182.6 354M176.9 375.2L179.7 352.4M174 373.6L176.7 350.9M171 372.1L173.8 349.3M168.1 370.5L170.8 347.7M165.1 368.9L167.9 346.2M162.2 367.4L164.9 344.6M159.2 365.8L162 343M156.3 364.2L159 341.5M153.3 362.7L156.1 339.9M150.4 361.1L153.1 338.3M147.4 359.5L150.2 336.8M144.5 358L147.2 335.2M141.5 356.4L144.3 333.7M138.6 354.9L141.3 332.1M135.6 353.3L138.4 330.5M132.7 351.7L135.4 329M129.7 350.2L132.5 327.4" stroke="#c8c8c8" stroke-width=".78" fill="none"/>
<path d="M233 404.9L129.7 350.2" stroke="#b6b6b6" stroke-width=".78" fill="none"/>
<path d="M230.3 431.5L233 404.9L129.7 350.2L127 376.8Z" fill="#fff"/>
<path d="M233 404.9L129.7 350.2" stroke="#b6b6b6" stroke-width=".78" fill="none"/>
<path d="M230.3 431.5L233 404.9M227.3 430L230.1 403.3M224.4 428.4L227.1 401.8M221.4 426.9L224.2 400.2M218.5 425.3L221.2 398.6M215.5 423.7L218.3 397.1M212.6 422.2L215.3 395.5M209.6 420.6L212.4 393.9M206.7 419L209.4 392.4M203.7 417.5L206.5 390.8M200.8 415.9L203.5 389.3M197.8 414.3L200.6 387.7M194.9 412.8L197.6 386.1M191.9 411.2L194.7 384.6M189 409.7L191.7 383M186 408.1L188.7 381.4M183 406.5L185.8 379.9M180.1 405L182.8 378.3M177.1 403.4L179.9 376.7M174.2 401.8L176.9 375.2M171.2 400.3L174 373.6M168.3 398.7L171 372.1M165.3 397.1L168.1 370.5M162.4 395.6L165.1 368.9M159.4 394L162.2 367.4M156.5 392.5L159.2 365.8M153.5 390.9L156.3 364.2M150.6 389.3L153.3 362.7M147.6 387.8L150.4 361.1M144.7 386.2L147.4 359.5M141.7 384.6L144.5 358M138.8 383.1L141.5 356.4M135.8 381.5L138.6 354.9M132.9 379.9L135.6 353.3M129.9 378.4L132.7 351.7M127 376.8L129.7 350.2" stroke="#a0a0a0" stroke-width=".78" fill="none"/>
<path d="M230.3 431.5L127 376.8" stroke="#8a8a8a" stroke-width=".78" fill="none"/>
<path d="M227.5 457.6L230.3 431.5L127 376.8L124.2 402.9Z" fill="#fff"/>
<path d="M230.3 431.5L127 376.8" stroke="#8a8a8a" stroke-width=".78" fill="none"/>
<path d="M227.5 457.6L230.3 431.5M224.6 456.1L227.3 430M221.6 454.5L224.4 428.4M218.7 452.9L221.4 426.9M215.7 451.4L218.5 425.3M212.8 449.8L215.5 423.7M209.8 448.2L212.6 422.2M206.9 446.7L209.6 420.6M203.9 445.1L206.7 419M201 443.6L203.7 417.5M198 442L200.8 415.9M195.1 440.4L197.8 414.3M192.1 438.9L194.9 412.8M189.2 437.3L191.9 411.2M186.2 435.7L189 409.7M183.2 434.2L186 408.1M180.3 432.6L183 406.5M177.3 431L180.1 405M174.4 429.5L177.1 403.4M171.4 427.9L174.2 401.8M168.5 426.4L171.2 400.3M165.5 424.8L168.3 398.7M162.6 423.2L165.3 397.1M159.6 421.7L162.4 395.6M156.7 420.1L159.4 394M153.7 418.5L156.5 392.5M150.8 417L153.5 390.9M147.8 415.4L150.6 389.3M144.9 413.9L147.6 387.8M141.9 412.3L144.7 386.2M139 410.7L141.7 384.6M136 409.2L138.8 383.1M133.1 407.6L135.8 381.5M130.1 406L132.9 379.9M127.2 404.5L129.9 378.4M124.2 402.9L127 376.8" stroke="#757575" stroke-width=".78" fill="none"/>
<path d="M227.5 457.6L124.2 402.9" stroke="#606060" stroke-width=".78" fill="none"/>
<path d="M224.8 478.8L227.5 457.6L124.2 402.9L121.5 424.1Z" fill="#fff"/>
<path d="M227.5 457.6L124.2 402.9" stroke="#606060" stroke-width=".78" fill="none"/>
<path d="M224.8 478.8L227.5 457.6M221.8 477.2L224.6 456.1M218.9 475.7L221.6 454.5M215.9 474.1L218.7 452.9M213 472.5L215.7 451.4M210 471L212.8 449.8M207.1 469.4L209.8 448.2M204.1 467.8L206.9 446.7M201.2 466.3L203.9 445.1M198.2 464.7L201 443.6M195.3 463.2L198 442M192.3 461.6L195.1 440.4M189.4 460L192.1 438.9M186.4 458.5L189.2 437.3M183.5 456.9L186.2 435.7M180.5 455.3L183.2 434.2M177.5 453.8L180.3 432.6M174.6 452.2L177.3 431M171.6 450.6L174.4 429.5M168.7 449.1L171.4 427.9M165.7 447.5L168.5 426.4M162.8 446L165.5 424.8M159.8 444.4L162.6 423.2M156.9 442.8L159.6 421.7M153.9 441.3L156.7 420.1M151 439.7L153.7 418.5M148 438.1L150.8 417M145.1 436.6L147.8 415.4M142.1 435L144.9 413.9M139.2 433.4L141.9 412.3M136.2 431.9L139 410.7M133.3 430.3L136 409.2M130.3 428.8L133.1 407.6M127.4 427.2L130.1 406M124.4 425.6L127.2 404.5M121.5 424.1L124.2 402.9" stroke="#4f4f4f" stroke-width=".78" fill="none"/>
<path d="M224.8 478.8L121.5 424.1" stroke="#3e3e3e" stroke-width=".78" fill="none"/>
<path d="M222 491.5L224.8 478.8L121.5 424.1L118.7 436.8Z" fill="#fff"/>
<path d="M224.8 478.8L121.5 424.1" stroke="#3e3e3e" stroke-width=".78" fill="none"/>
<path d="M222 491.5L224.8 478.8M219.1 490L221.8 477.2M216.1 488.4L218.9 475.7M213.2 486.8L215.9 474.1M210.2 485.3L213 472.5M207.3 483.7L210 471M204.3 482.1L207.1 469.4M201.4 480.6L204.1 467.8M198.4 479L201.2 466.3M195.5 477.4L198.2 464.7M192.5 475.9L195.3 463.2M189.6 474.3L192.3 461.6M186.6 472.8L189.4 460M183.7 471.2L186.4 458.5M180.7 469.6L183.5 456.9M177.7 468.1L180.5 455.3M174.8 466.5L177.5 453.8M171.8 464.9L174.6 452.2M168.9 463.4L171.6 450.6M165.9 461.8L168.7 449.1M163 460.2L165.7 447.5M160 458.7L162.8 446M157.1 457.1L159.8 444.4M154.1 455.6L156.9 442.8M151.2 454L153.9 441.3M148.2 452.4L151 439.7M145.3 450.9L148 438.1M142.3 449.3L145.1 436.6M139.4 447.7L142.1 435M136.4 446.2L139.2 433.4M133.5 444.6L136.2 431.9M130.5 443L133.3 430.3M127.6 441.5L130.3 428.8M124.6 439.9L127.4 427.2M121.7 438.4L124.4 425.6M118.7 436.8L121.5 424.1" stroke="#343434" stroke-width=".78" fill="none"/>
<path d="M222 491.5L118.7 436.8" stroke="#2a2a2a" stroke-width=".78" fill="none"/>
<path d="M219.3 493.8L222 491.5L118.7 436.8L116 439Z" fill="#fff"/>
<path d="M222 491.5L118.7 436.8" stroke="#2a2a2a" stroke-width=".78" fill="none"/>
<path d="M219.3 493.8L222 491.5M216.3 492.2L219.1 490M213.4 490.6L216.1 488.4M210.4 489.1L213.2 486.8M207.5 487.5L210.2 485.3M204.5 485.9L207.3 483.7M201.6 484.4L204.3 482.1M198.6 482.8L201.4 480.6M195.7 481.3L198.4 479M192.7 479.7L195.5 477.4M189.8 478.1L192.5 475.9M186.8 476.6L189.6 474.3M183.9 475L186.6 472.8M180.9 473.4L183.7 471.2M178 471.9L180.7 469.6M175 470.3L177.7 468.1M172 468.7L174.8 466.5M169.1 467.2L171.8 464.9M166.1 465.6L168.9 463.4M163.2 464.1L165.9 461.8M160.2 462.5L163 460.2M157.3 460.9L160 458.7M154.3 459.4L157.1 457.1M151.4 457.8L154.1 455.6M148.4 456.2L151.2 454M145.5 454.7L148.2 452.4M142.5 453.1L145.3 450.9M139.6 451.6L142.3 449.3M136.6 450L139.4 447.7M133.7 448.4L136.4 446.2M130.7 446.9L133.5 444.6M127.8 445.3L130.5 443M124.8 443.7L127.6 441.5M121.9 442.2L124.6 439.9M118.9 440.6L121.7 438.4M116 439L118.7 436.8" stroke="#282828" stroke-width=".78" fill="none"/>
<path d="M219.3 493.8L116 439" stroke="#272727" stroke-width=".78" fill="none"/>
<path d="M216.5 485.3L219.3 493.8L116 439L113.2 430.6Z" fill="#fff"/>
<path d="M219.3 493.8L116 439" stroke="#272727" stroke-width=".78" fill="none"/>
<path d="M216.5 485.3L219.3 493.8M213.6 483.7L216.3 492.2M210.6 482.2L213.4 490.6M207.7 480.6L210.4 489.1M204.7 479L207.5 487.5M201.8 477.5L204.5 485.9M198.8 475.9L201.6 484.4M195.9 474.4L198.6 482.8M192.9 472.8L195.7 481.3M190 471.2L192.7 479.7M187 469.7L189.8 478.1M184.1 468.1L186.8 476.6M181.1 466.5L183.9 475M178.2 465L180.9 473.4M175.2 463.4L178 471.9M172.2 461.8L175 470.3M169.3 460.3L172 468.7M166.3 458.7L169.1 467.2M163.4 457.2L166.1 465.6M160.4 455.6L163.2 464.1M157.5 454L160.2 462.5M154.5 452.5L157.3 460.9M151.6 450.9L154.3 459.4M148.6 449.3L151.4 457.8M145.7 447.8L148.4 456.2M142.7 446.2L145.5 454.7M139.8 444.6L142.5 453.1M136.8 443.1L139.6 451.6M133.9 441.5L136.6 450M130.9 440L133.7 448.4M128 438.4L130.7 446.9M125 436.8L127.8 445.3M122.1 435.3L124.8 443.7M119.1 433.7L121.9 442.2M116.2 432.1L118.9 440.6M113.2 430.6L116 439" stroke="#2f2f2f" stroke-width=".78" fill="none"/>
<path d="M216.5 485.3L113.2 430.6" stroke="#373737" stroke-width=".78" fill="none"/>
<path d="M213.8 467.7L216.5 485.3L113.2 430.6L110.5 413Z" fill="#fff"/>
<path d="M216.5 485.3L113.2 430.6" stroke="#373737" stroke-width=".78" fill="none"/>
<path d="M213.8 467.7L216.5 485.3M210.8 466.2L213.6 483.7M207.9 464.6L210.6 482.2M204.9 463L207.7 480.6M202 461.5L204.7 479M199 459.9L201.8 477.5M196.1 458.3L198.8 475.9M193.1 456.8L195.9 474.4M190.2 455.2L192.9 472.8M187.2 453.7L190 471.2M184.3 452.1L187 469.7M181.3 450.5L184.1 468.1M178.4 449L181.1 466.5M175.4 447.4L178.2 465M172.5 445.8L175.2 463.4M169.5 444.3L172.2 461.8M166.5 442.7L169.3 460.3M163.6 441.1L166.3 458.7M160.6 439.6L163.4 457.2M157.7 438L160.4 455.6M154.7 436.5L157.5 454M151.8 434.9L154.5 452.5M148.8 433.3L151.6 450.9M145.9 431.8L148.6 449.3M142.9 430.2L145.7 447.8M140 428.6L142.7 446.2M137 427.1L139.8 444.6M134.1 425.5L136.8 443.1M131.1 424L133.9 441.5M128.2 422.4L130.9 440M125.2 420.8L128 438.4M122.3 419.3L125 436.8M119.3 417.7L122.1 435.3M116.4 416.1L119.1 433.7M113.4 414.6L116.2 432.1M110.5 413L113.2 430.6" stroke="#474747" stroke-width=".78" fill="none"/>
<path d="M213.8 467.7L110.5 413" stroke="#565656" stroke-width=".78" fill="none"/>
<path d="M211 444.2L213.8 467.7L110.5 413L107.7 389.5Z" fill="#fff"/>
<path d="M213.8 467.7L110.5 413" stroke="#565656" stroke-width=".78" fill="none"/>
<path d="M211 444.2L213.8 467.7M208.1 442.7L210.8 466.2M205.1 441.1L207.9 464.6M202.2 439.6L204.9 463M199.2 438L202 461.5M196.3 436.4L199 459.9M193.3 434.9L196.1 458.3M190.4 433.3L193.1 456.8M187.4 431.7L190.2 455.2M184.5 430.2L187.2 453.7M181.5 428.6L184.3 452.1M178.6 427.1L181.3 450.5M175.6 425.5L178.4 449M172.7 423.9L175.4 447.4M169.7 422.4L172.5 445.8M166.7 420.8L169.5 444.3M163.8 419.2L166.5 442.7M160.8 417.7L163.6 441.1M157.9 416.1L160.6 439.6M154.9 414.5L157.7 438M152 413L154.7 436.5M149 411.4L151.8 434.9M146.1 409.9L148.8 433.3M143.1 408.3L145.9 431.8M140.2 406.7L142.9 430.2M137.2 405.2L140 428.6M134.3 403.6L137 427.1M131.3 402L134.1 425.5M128.4 400.5L131.1 424M125.4 398.9L128.2 422.4M122.5 397.3L125.2 420.8M119.5 395.8L122.3 419.3M116.6 394.2L119.3 417.7M113.6 392.7L116.4 416.1M110.7 391.1L113.4 414.6M107.7 389.5L110.5 413" stroke="#6b6b6b" stroke-width=".78" fill="none"/>
<path d="M211 444.2L107.7 389.5" stroke="#7f7f7f" stroke-width=".78" fill="none"/>
<path d="M208.3 419.1L211 444.2L107.7 389.5L105 364.4Z" fill="#fff"/>
<path d="M211 444.2L107.7 389.5" stroke="#7f7f7f" stroke-width=".78" fill="none"/>
<path d="M208.3 419.1L211 444.2M205.3 417.5L208.1 442.7M202.4 415.9L205.1 441.1M199.4 414.4L202.2 439.6M196.5 412.8L199.2 438M193.5 411.3L196.3 436.4M190.6 409.7L193.3 434.9M187.6 408.1L190.4 433.3M184.7 406.6L187.4 431.7M181.7 405L184.5 430.2M178.8 403.4L181.5 428.6M175.8 401.9L178.6 427.1M172.9 400.3L175.6 425.5M169.9 398.7L172.7 423.9M167 397.2L169.7 422.4M164 395.6L166.7 420.8M161 394.1L163.8 419.2M158.1 392.5L160.8 417.7M155.1 390.9L157.9 416.1M152.2 389.4L154.9 414.5M149.2 387.8L152 413M146.3 386.2L149 411.4M143.3 384.7L146.1 409.9M140.4 383.1L143.1 408.3M137.4 381.6L140.2 406.7M134.5 380L137.2 405.2M131.5 378.4L134.3 403.6M128.6 376.9L131.3 402M125.6 375.3L128.4 400.5M122.7 373.7L125.4 398.9M119.7 372.2L122.5 397.3M116.8 370.6L119.5 395.8M113.8 369L116.6 394.2M110.9 367.5L113.6 392.7M107.9 365.9L110.7 391.1M105 364.4L107.7 389.5" stroke="#959595" stroke-width=".78" fill="none"/>
<path d="M208.3 419.1L105 364.4" stroke="#ababab" stroke-width=".78" fill="none"/>
<path d="M205.5 396.7L208.3 419.1L105 364.4L102.2 342Z" fill="#fff"/>
<path d="M208.3 419.1L105 364.4" stroke="#ababab" stroke-width=".78" fill="none"/>
<path d="M205.5 396.7L208.3 419.1M202.6 395.1L205.3 417.5M199.6 393.6L202.4 415.9M196.7 392L199.4 414.4M193.7 390.5L196.5 412.8M190.8 388.9L193.5 411.3M187.8 387.3L190.6 409.7M184.9 385.8L187.6 408.1M181.9 384.2L184.7 406.6M179 382.6L181.7 405M176 381.1L178.8 403.4M173.1 379.5L175.8 401.9M170.1 377.9L172.9 400.3M167.2 376.4L169.9 398.7M164.2 374.8L167 397.2M161.2 373.3L164 395.6M158.3 371.7L161 394.1M155.3 370.1L158.1 392.5M152.4 368.6L155.1 390.9M149.4 367L152.2 389.4M146.5 365.4L149.2 387.8M143.5 363.9L146.3 386.2M140.6 362.3L143.3 384.7M137.6 360.7L140.4 383.1M134.7 359.2L137.4 381.6M131.7 357.6L134.5 380M128.8 356.1L131.5 378.4M125.8 354.5L128.6 376.9M122.9 352.9L125.6 375.3M119.9 351.4L122.7 373.7M117 349.8L119.7 372.2M114 348.2L116.8 370.6M111.1 346.7L113.8 369M108.1 345.1L110.9 367.5M105.2 343.5L107.9 365.9M102.2 342L105 364.4" stroke="#bfbfbf" stroke-width=".78" fill="none"/>
<path d="M205.5 396.7L102.2 342" stroke="#d3d3d3" stroke-width=".78" fill="none"/>
<path d="M202.8 381.2L205.5 396.7L102.2 342L99.5 326.4Z" fill="#fff"/>
<path d="M205.5 396.7L102.2 342" stroke="#d3d3d3" stroke-width=".78" fill="none"/>
<path d="M202.8 381.2L205.5 396.7M199.8 379.6L202.6 395.1M196.9 378L199.6 393.6M193.9 376.5L196.7 392M191 374.9L193.7 390.5M188 373.4L190.8 388.9M185.1 371.8L187.8 387.3M182.1 370.2L184.9 385.8M179.2 368.7L181.9 384.2M176.2 367.1L179 382.6M173.3 365.5L176 381.1M170.3 364L173.1 379.5M167.4 362.4L170.1 377.9M164.4 360.8L167.2 376.4M161.5 359.3L164.2 374.8M158.5 357.7L161.2 373.3M155.5 356.2L158.3 371.7M152.6 354.6L155.3 370.1M149.6 353L152.4 368.6M146.7 351.5L149.4 367M143.7 349.9L146.5 365.4M140.8 348.3L143.5 363.9M137.8 346.8L140.6 362.3M134.9 345.2L137.6 360.7M131.9 343.6L134.7 359.2M129 342.1L131.7 357.6M126 340.5L128.8 356.1M123.1 339L125.8 354.5M120.1 337.4L122.9 352.9M117.2 335.8L119.9 351.4M114.2 334.3L117 349.8M111.3 332.7L114 348.2M108.3 331.1L111.1 346.7M105.4 329.6L108.1 345.1M102.4 328L105.2 343.5M99.5 326.4L102.2 342" stroke="#e1e1e1" stroke-width=".78" fill="none"/>
<path d="M202.8 381.2L99.5 326.4" stroke="#eeeeee" stroke-width=".78" fill="none"/>
<path d="M200 375.3L202.8 381.2L99.5 326.4L96.7 320.6Z" fill="#fff"/>
<path d="M202.8 381.2L99.5 326.4" stroke="#eeeeee" stroke-width=".78" fill="none"/>
<path d="M200 375.3L202.8 381.2M197.1 373.7L199.8 379.6M194.1 372.2L196.9 378M191.2 370.6L193.9 376.5M188.2 369L191 374.9M185.3 367.5L188 373.4M182.3 365.9L185.1 371.8M179.4 364.4L182.1 370.2M176.4 362.8L179.2 368.7M173.5 361.2L176.2 367.1M170.5 359.7L173.3 365.5M167.6 358.1L170.3 364M164.6 356.5L167.4 362.4M161.7 355L164.4 360.8M158.7 353.4L161.5 359.3M155.7 351.8L158.5 357.7M152.8 350.3L155.5 356.2M149.8 348.7L152.6 354.6M146.9 347.2L149.6 353M143.9 345.6L146.7 351.5M141 344L143.7 349.9M138 342.5L140.8 348.3M135.1 340.9L137.8 346.8M132.1 339.3L134.9 345.2M129.2 337.8L131.9 343.6M126.2 336.2L129 342.1M123.3 334.6L126 340.5M120.3 333.1L123.1 339M117.4 331.5L120.1 337.4M114.4 330L117.2 335.8M111.5 328.4L114.2 334.3M108.5 326.8L111.3 332.7M105.6 325.3L108.3 331.1M102.6 323.7L105.4 329.6M99.7 322.1L102.4 328M96.7 320.6L99.5 326.4" stroke="#f4f4f4" stroke-width=".78" fill="none"/>
<path d="M200 375.3L96.7 320.6" stroke="#fafafa" stroke-width=".78" fill="none"/>
<path d="M197.3 380.3L200 375.3L96.7 320.6L94 325.5Z" fill="#fff"/>
<path d="M200 375.3L96.7 320.6" stroke="#fafafa" stroke-width=".78" fill="none"/>
<path d="M197.3 380.3L200 375.3M194.3 378.7L197.1 373.7M191.4 377.1L194.1 372.2M188.4 375.6L191.2 370.6M185.5 374L188.2 369M182.5 372.4L185.3 367.5M179.6 370.9L182.3 365.9M176.6 369.3L179.4 364.4M173.7 367.8L176.4 362.8M170.7 366.2L173.5 361.2M167.8 364.6L170.5 359.7M164.8 363.1L167.6 358.1M161.9 361.5L164.6 356.5M158.9 359.9L161.7 355M156 358.4L158.7 353.4M153 356.8L155.7 351.8M150 355.2L152.8 350.3M147.1 353.7L149.8 348.7M144.1 352.1L146.9 347.2M141.2 350.6L143.9 345.6M138.2 349L141 344M135.3 347.4L138 342.5M132.3 345.9L135.1 340.9M129.4 344.3L132.1 339.3M126.4 342.7L129.2 337.8M123.5 341.2L126.2 336.2M120.5 339.6L123.3 334.6M117.6 338L120.3 333.1M114.6 336.5L117.4 331.5M111.7 334.9L114.4 330M108.7 333.4L111.5 328.4M105.8 331.8L108.5 326.8M102.8 330.2L105.6 325.3M99.9 328.7L102.6 323.7M96.9 327.1L99.7 322.1M94 325.5L96.7 320.6" stroke="#f6f6f6" stroke-width=".78" fill="none"/>
<path d="M197.3 380.3L94 325.5" stroke="#f3f3f3" stroke-width=".78" fill="none"/>
<path d="M194.5 395.4L197.3 380.3L94 325.5L91.2 340.6Z" fill="#fff"/>
<path d="M197.3 380.3L94 325.5" stroke="#f3f3f3" stroke-width=".78" fill="none"/>
<path d="M194.5 395.4L197.3 380.3M191.6 393.8L194.3 378.7M188.6 392.2L191.4 377.1M185.7 390.7L188.4 375.6M182.7 389.1L185.5 374M179.8 387.5L182.5 372.4M176.8 386L179.6 370.9M173.9 384.4L176.6 369.3M170.9 382.8L173.7 367.8M168 381.3L170.7 366.2M165 379.7L167.8 364.6M162.1 378.2L164.8 363.1M159.1 376.6L161.9 361.5M156.2 375L158.9 359.9M153.2 373.5L156 358.4M150.2 371.9L153 356.8M147.3 370.3L150 355.2M144.3 368.8L147.1 353.7M141.4 367.2L144.1 352.1M138.4 365.6L141.2 350.6M135.5 364.1L138.2 349M132.5 362.5L135.3 347.4M129.6 361L132.3 345.9M126.6 359.4L129.4 344.3M123.7 357.8L126.4 342.7M120.7 356.3L123.5 341.2M117.8 354.7L120.5 339.6M114.8 353.1L117.6 338M111.9 351.6L114.6 336.5M108.9 350L111.7 334.9M106 348.5L108.7 333.4M103 346.9L105.8 331.8M100.1 345.3L102.8 330.2M97.1 343.8L99.9 328.7M94.2 342.2L96.9 327.1M91.2 340.6L94 325.5" stroke="#e7e7e7" stroke-width=".78" fill="none"/>
<path d="M194.5 395.4L91.2 340.6" stroke="#dbdbdb" stroke-width=".78" fill="none"/>
<path d="M191.8 418.1L194.5 395.4L91.2 340.6L88.5 363.4Z" fill="#fff"/>
<path d="M194.5 395.4L91.2 340.6" stroke="#dbdbdb" stroke-width=".78" fill="none"/>
<path d="M191.8 418.1L194.5 395.4M188.8 416.6L191.6 393.8M185.9 415L188.6 392.2M182.9 413.4L185.7 390.7M180 411.9L182.7 389.1M177 410.3L179.8 387.5M174.1 408.7L176.8 386M171.1 407.2L173.9 384.4M168.2 405.6L170.9 382.8M165.2 404L168 381.3M162.3 402.5L165 379.7M159.3 400.9L162.1 378.2M156.4 399.4L159.1 376.6M153.4 397.8L156.2 375M150.5 396.2L153.2 373.5M147.5 394.7L150.2 371.9M144.5 393.1L147.3 370.3M141.6 391.5L144.3 368.8M138.6 390L141.4 367.2M135.7 388.4L138.4 365.6M132.7 386.9L135.5 364.1M129.8 385.3L132.5 362.5M126.8 383.7L129.6 361M123.9 382.2L126.6 359.4M120.9 380.6L123.7 357.8M118 379L120.7 356.3M115 377.5L117.8 354.7M112.1 375.9L114.8 353.1M109.1 374.3L111.9 351.6M106.2 372.8L108.9 350M103.2 371.2L106 348.5M100.3 369.7L103 346.9M97.3 368.1L100.1 345.3M94.4 366.5L97.1 343.8M91.4 365L94.2 342.2M88.5 363.4L91.2 340.6" stroke="#c8c8c8" stroke-width=".78" fill="none"/>
<path d="M191.8 418.1L88.5 363.4" stroke="#b6b6b6" stroke-width=".78" fill="none"/>
<path d="M189 444.8L191.8 418.1L88.5 363.4L85.7 390.1Z" fill="#fff"/>
<path d="M191.8 418.1L88.5 363.4" stroke="#b6b6b6" stroke-width=".78" fill="none"/>
<path d="M189 444.8L191.8 418.1M186.1 443.2L188.8 416.6M183.1 441.6L185.9 415M180.2 440.1L182.9 413.4M177.2 438.5L180 411.9M174.3 437L177 410.3M171.3 435.4L174.1 408.7M168.4 433.8L171.1 407.2M165.4 432.3L168.2 405.6M162.5 430.7L165.2 404M159.5 429.1L162.3 402.5M156.6 427.6L159.3 400.9M153.6 426L156.4 399.4M150.7 424.4L153.4 397.8M147.7 422.9L150.5 396.2M144.7 421.3L147.5 394.7M141.8 419.8L144.5 393.1M138.8 418.2L141.6 391.5M135.9 416.6L138.6 390M132.9 415.1L135.7 388.4M130 413.5L132.7 386.9M127 411.9L129.8 385.3M124.1 410.4L126.8 383.7M121.1 408.8L123.9 382.2M118.2 407.3L120.9 380.6M115.2 405.7L118 379M112.3 404.1L115 377.5M109.3 402.6L112.1 375.9M106.4 401L109.1 374.3M103.4 399.4L106.2 372.8M100.5 397.9L103.2 371.2M97.5 396.3L100.3 369.7M94.6 394.7L97.3 368.1M91.6 393.2L94.4 366.5M88.7 391.6L91.4 365M85.7 390.1L88.5 363.4" stroke="#a0a0a0" stroke-width=".78" fill="none"/>
<path d="M189 444.8L85.7 390.1" stroke="#8a8a8a" stroke-width=".78" fill="none"/>
<path d="M186.3 470.9L189 444.8L85.7 390.1L83 416.1Z" fill="#fff"/>
<path d="M189 444.8L85.7 390.1" stroke="#8a8a8a" stroke-width=".78" fill="none"/>
<path d="M186.3 470.9L189 444.8M183.3 469.3L186.1 443.2M180.4 467.7L183.1 441.6M177.4 466.2L180.2 440.1M174.5 464.6L177.2 438.5M171.5 463L174.3 437M168.6 461.5L171.3 435.4M165.6 459.9L168.4 433.8M162.7 458.4L165.4 432.3M159.7 456.8L162.5 430.7M156.8 455.2L159.5 429.1M153.8 453.7L156.6 427.6M150.9 452.1L153.6 426M147.9 450.5L150.7 424.4M145 449L147.7 422.9M142 447.4L144.7 421.3M139 445.8L141.8 419.8M136.1 444.3L138.8 418.2M133.1 442.7L135.9 416.6M130.2 441.2L132.9 415.1M127.2 439.6L130 413.5M124.3 438L127 411.9M121.3 436.5L124.1 410.4M118.4 434.9L121.1 408.8M115.4 433.3L118.2 407.3M112.5 431.8L115.2 405.7M109.5 430.2L112.3 404.1M106.6 428.6L109.3 402.6M103.6 427.1L106.4 401M100.7 425.5L103.4 399.4M97.7 424L100.5 397.9M94.8 422.4L97.5 396.3M91.8 420.8L94.6 394.7M88.9 419.3L91.6 393.2M85.9 417.7L88.7 391.6M83 416.1L85.7 390.1" stroke="#757575" stroke-width=".78" fill="none"/>
<path d="M186.3 470.9L83 416.1" stroke="#606060" stroke-width=".78" fill="none"/>
<path d="M183.5 492L186.3 470.9L83 416.1L80.2 437.3Z" fill="#fff"/>
<path d="M186.3 470.9L83 416.1" stroke="#606060" stroke-width=".78" fill="none"/>
<path d="M183.5 492L186.3 470.9M180.6 490.5L183.3 469.3M177.6 488.9L180.4 467.7M174.7 487.3L177.4 466.2M171.7 485.8L174.5 464.6M168.8 484.2L171.5 463M165.8 482.6L168.6 461.5M162.9 481.1L165.6 459.9M159.9 479.5L162.7 458.4M157 477.9L159.7 456.8M154 476.4L156.8 455.2M151.1 474.8L153.8 453.7M148.1 473.3L150.9 452.1M145.2 471.7L147.9 450.5M142.2 470.1L145 449M139.2 468.6L142 447.4M136.3 467L139 445.8M133.3 465.4L136.1 444.3M130.4 463.9L133.1 442.7M127.4 462.3L130.2 441.2M124.5 460.7L127.2 439.6M121.5 459.2L124.3 438M118.6 457.6L121.3 436.5M115.6 456.1L118.4 434.9M112.7 454.5L115.4 433.3M109.7 452.9L112.5 431.8M106.8 451.4L109.5 430.2M103.8 449.8L106.6 428.6M100.9 448.2L103.6 427.1M97.9 446.7L100.7 425.5M95 445.1L97.7 424M92 443.6L94.8 422.4M89.1 442L91.8 420.8M86.1 440.4L88.9 419.3M83.2 438.9L85.9 417.7M80.2 437.3L83 416.1" stroke="#4f4f4f" stroke-width=".78" fill="none"/>
<path d="M183.5 492L80.2 437.3" stroke="#3e3e3e" stroke-width=".78" fill="none"/>
<path d="M180.8 504.7L183.5 492L80.2 437.3L77.5 450Z" fill="#fff"/>
<path d="M183.5 492L80.2 437.3" stroke="#3e3e3e" stroke-width=".78" fill="none"/>
<path d="M180.8 504.7L183.5 492M177.8 503.2L180.6 490.5M174.9 501.6L177.6 488.9M171.9 500.1L174.7 487.3M169 498.5L171.7 485.8M166 496.9L168.8 484.2M163.1 495.4L165.8 482.6M160.1 493.8L162.9 481.1M157.2 492.2L159.9 479.5M154.2 490.7L157 477.9M151.3 489.1L154 476.4M148.3 487.5L151.1 474.8M145.4 486L148.1 473.3M142.4 484.4L145.2 471.7M139.5 482.9L142.2 470.1M136.5 481.3L139.2 468.6M133.5 479.7L136.3 467M130.6 478.2L133.3 465.4M127.6 476.6L130.4 463.9M124.7 475L127.4 462.3M121.7 473.5L124.5 460.7M118.8 471.9L121.5 459.2M115.8 470.4L118.6 457.6M112.9 468.8L115.6 456.1M109.9 467.2L112.7 454.5M107 465.7L109.7 452.9M104 464.1L106.8 451.4M101.1 462.5L103.8 449.8M98.1 461L100.9 448.2M95.2 459.4L97.9 446.7M92.2 457.8L95 445.1M89.3 456.3L92 443.6M86.3 454.7L89.1 442M83.4 453.2L86.1 440.4M80.4 451.6L83.2 438.9M77.5 450L80.2 437.3" stroke="#343434" stroke-width=".78" fill="none"/>
<path d="M180.8 504.7L77.5 450" stroke="#2a2a2a" stroke-width=".78" fill="none"/>
<path d="M178 507L180.8 504.7L77.5 450L74.7 452.3Z" fill="#fff"/>
<path d="M180.8 504.7L77.5 450" stroke="#2a2a2a" stroke-width=".78" fill="none"/>
<path d="M178 507L180.8 504.7M175.1 505.4L177.8 503.2M172.1 503.9L174.9 501.6M169.2 502.3L171.9 500.1M166.2 500.7L169 498.5M163.3 499.2L166 496.9M160.3 497.6L163.1 495.4M157.4 496L160.1 493.8M154.4 494.5L157.2 492.2M151.5 492.9L154.2 490.7M148.5 491.4L151.3 489.1M145.6 489.8L148.3 487.5M142.6 488.2L145.4 486M139.7 486.7L142.4 484.4M136.7 485.1L139.5 482.9M133.7 483.5L136.5 481.3M130.8 482L133.5 479.7M127.8 480.4L130.6 478.2M124.9 478.9L127.6 476.6M121.9 477.3L124.7 475M119 475.7L121.7 473.5M116 474.2L118.8 471.9M113.1 472.6L115.8 470.4M110.1 471L112.9 468.8M107.2 469.5L109.9 467.2M104.2 467.9L107 465.7M101.3 466.3L104 464.1M98.3 464.8L101.1 462.5M95.4 463.2L98.1 461M92.4 461.7L95.2 459.4M89.5 460.1L92.2 457.8M86.5 458.5L89.3 456.3M83.6 457L86.3 454.7M80.6 455.4L83.4 453.2M77.7 453.8L80.4 451.6M74.7 452.3L77.5 450" stroke="#282828" stroke-width=".78" fill="none"/>
<path d="M178 507L74.7 452.3" stroke="#272727" stroke-width=".78" fill="none"/>
<path d="M175.3 498.5L178 507L74.7 452.3L72 443.8Z" fill="#fff"/>
<path d="M178 507L74.7 452.3" stroke="#272727" stroke-width=".78" fill="none"/>
<path d="M175.3 498.5L178 507M172.3 497L175.1 505.4M169.4 495.4L172.1 503.9M166.4 493.8L169.2 502.3M163.5 492.3L166.2 500.7M160.5 490.7L163.3 499.2M157.6 489.1L160.3 497.6M154.6 487.6L157.4 496M151.7 486L154.4 494.5M148.7 484.5L151.5 492.9M145.8 482.9L148.5 491.4M142.8 481.3L145.6 489.8M139.9 479.8L142.6 488.2M136.9 478.2L139.7 486.7M134 476.6L136.7 485.1M131 475.1L133.7 483.5M128 473.5L130.8 482M125.1 471.9L127.8 480.4M122.1 470.4L124.9 478.9M119.2 468.8L121.9 477.3M116.2 467.3L119 475.7M113.3 465.7L116 474.2M110.3 464.1L113.1 472.6M107.4 462.6L110.1 471M104.4 461L107.2 469.5M101.5 459.4L104.2 467.9M98.5 457.9L101.3 466.3M95.6 456.3L98.3 464.8M92.6 454.7L95.4 463.2M89.7 453.2L92.4 461.7M86.7 451.6L89.5 460.1M83.8 450.1L86.5 458.5M80.8 448.5L83.6 457M77.9 446.9L80.6 455.4M74.9 445.4L77.7 453.8M72 443.8L74.7 452.3" stroke="#2f2f2f" stroke-width=".78" fill="none"/>
<path d="M175.3 498.5L72 443.8" stroke="#373737" stroke-width=".78" fill="none"/>
<path d="M172.5 481L175.3 498.5L72 443.8L69.2 426.2Z" fill="#fff"/>
<path d="M175.3 498.5L72 443.8" stroke="#373737" stroke-width=".78" fill="none"/>
<path d="M172.5 481L175.3 498.5M169.6 479.4L172.3 497M166.6 477.8L169.4 495.4M163.7 476.3L166.4 493.8M160.7 474.7L163.5 492.3M157.8 473.1L160.5 490.7M154.8 471.6L157.6 489.1M151.9 470L154.6 487.6M148.9 468.4L151.7 486M146 466.9L148.7 484.5M143 465.3L145.8 482.9M140.1 463.8L142.8 481.3M137.1 462.2L139.9 479.8M134.2 460.6L136.9 478.2M131.2 459.1L134 476.6M128.2 457.5L131 475.1M125.3 455.9L128 473.5M122.3 454.4L125.1 471.9M119.4 452.8L122.1 470.4M116.4 451.3L119.2 468.8M113.5 449.7L116.2 467.3M110.5 448.1L113.3 465.7M107.6 446.6L110.3 464.1M104.6 445L107.4 462.6M101.7 443.4L104.4 461M98.7 441.9L101.5 459.4M95.8 440.3L98.5 457.9M92.8 438.7L95.6 456.3M89.9 437.2L92.6 454.7M86.9 435.6L89.7 453.2M84 434.1L86.7 451.6M81 432.5L83.8 450.1M78.1 430.9L80.8 448.5M75.1 429.4L77.9 446.9M72.2 427.8L74.9 445.4M69.2 426.2L72 443.8" stroke="#474747" stroke-width=".78" fill="none"/>
<path d="M172.5 481L69.2 426.2" stroke="#565656" stroke-width=".78" fill="none"/>
<path d="M169.8 457.5L172.5 481L69.2 426.2L66.5 402.8Z" fill="#fff"/>
<path d="M172.5 481L69.2 426.2" stroke="#565656" stroke-width=".78" fill="none"/>
<path d="M169.8 457.5L172.5 481M166.8 455.9L169.6 479.4M163.9 454.4L166.6 477.8M160.9 452.8L163.7 476.3M158 451.2L160.7 474.7M155 449.7L157.8 473.1M152.1 448.1L154.8 471.6M149.1 446.5L151.9 470M146.2 445L148.9 468.4M143.2 443.4L146 466.9M140.3 441.8L143 465.3M137.3 440.3L140.1 463.8M134.4 438.7L137.1 462.2M131.4 437.2L134.2 460.6M128.5 435.6L131.2 459.1M125.5 434L128.2 457.5M122.5 432.5L125.3 455.9M119.6 430.9L122.3 454.4M116.6 429.3L119.4 452.8M113.7 427.8L116.4 451.3M110.7 426.2L113.5 449.7M107.8 424.6L110.5 448.1M104.8 423.1L107.6 446.6M101.9 421.5L104.6 445M98.9 420L101.7 443.4M96 418.4L98.7 441.9M93 416.8L95.8 440.3M90.1 415.3L92.8 438.7M87.1 413.7L89.9 437.2M84.2 412.1L86.9 435.6M81.2 410.6L84 434.1M78.3 409L81 432.5M75.3 407.4L78.1 430.9M72.4 405.9L75.1 429.4M69.4 404.3L72.2 427.8M66.5 402.8L69.2 426.2" stroke="#6b6b6b" stroke-width=".78" fill="none"/>
<path d="M169.8 457.5L66.5 402.8" stroke="#7f7f7f" stroke-width=".78" fill="none"/>
<path d="M167 432.3L169.8 457.5L66.5 402.8L63.7 377.6Z" fill="#fff"/>
<path d="M169.8 457.5L66.5 402.8" stroke="#7f7f7f" stroke-width=".78" fill="none"/>
<path d="M167 432.3L169.8 457.5M164.1 430.7L166.8 455.9M161.1 429.2L163.9 454.4M158.2 427.6L160.9 452.8M155.2 426L158 451.2M152.3 424.5L155 449.7M149.3 422.9L152.1 448.1M146.4 421.4L149.1 446.5M143.4 419.8L146.2 445M140.5 418.2L143.2 443.4M137.5 416.7L140.3 441.8M134.6 415.1L137.3 440.3M131.6 413.5L134.4 438.7M128.7 412L131.4 437.2M125.7 410.4L128.5 435.6M122.7 408.9L125.5 434M119.8 407.3L122.5 432.5M116.8 405.7L119.6 430.9M113.9 404.2L116.6 429.3M110.9 402.6L113.7 427.8M108 401L110.7 426.2M105 399.5L107.8 424.6M102.1 397.9L104.8 423.1M99.1 396.3L101.9 421.5M96.2 394.8L98.9 420M93.2 393.2L96 418.4M90.3 391.7L93 416.8M87.3 390.1L90.1 415.3M84.4 388.5L87.1 413.7M81.4 387L84.2 412.1M78.5 385.4L81.2 410.6M75.5 383.8L78.3 409M72.6 382.3L75.3 407.4M69.6 380.7L72.4 405.9M66.7 379.1L69.4 404.3M63.7 377.6L66.5 402.8" stroke="#959595" stroke-width=".78" fill="none"/>
<path d="M167 432.3L63.7 377.6" stroke="#ababab" stroke-width=".78" fill="none"/>
<path d="M164.3 409.9L167 432.3L63.7 377.6L61 355.2Z" fill="#fff"/>
<path d="M167 432.3L63.7 377.6" stroke="#ababab" stroke-width=".78" fill="none"/>
<path d="M164.3 409.9L167 432.3M161.3 408.4L164.1 430.7M158.4 406.8L161.1 429.2M155.4 405.2L158.2 427.6M152.5 403.7L155.2 426M149.5 402.1L152.3 424.5M146.6 400.6L149.3 422.9M143.6 399L146.4 421.4M140.7 397.4L143.4 419.8M137.7 395.9L140.5 418.2M134.8 394.3L137.5 416.7M131.8 392.7L134.6 415.1M128.9 391.2L131.6 413.5M125.9 389.6L128.7 412M123 388L125.7 410.4M120 386.5L122.7 408.9M117 384.9L119.8 407.3M114.1 383.4L116.8 405.7M111.1 381.8L113.9 404.2M108.2 380.2L110.9 402.6M105.2 378.7L108 401M102.3 377.1L105 399.5M99.3 375.5L102.1 397.9M96.4 374L99.1 396.3M93.4 372.4L96.2 394.8M90.5 370.9L93.2 393.2M87.5 369.3L90.3 391.7M84.6 367.7L87.3 390.1M81.6 366.2L84.4 388.5M78.7 364.6L81.4 387M75.7 363L78.5 385.4M72.8 361.5L75.5 383.8M69.8 359.9L72.6 382.3M66.9 358.3L69.6 380.7M63.9 356.8L66.7 379.1M61 355.2L63.7 377.6" stroke="#bfbfbf" stroke-width=".78" fill="none"/>
<path d="M164.3 409.9L61 355.2" stroke="#d3d3d3" stroke-width=".78" fill="none"/>
<path d="M161.5 394.4L164.3 409.9L61 355.2L58.2 339.7Z" fill="#fff"/>
<path d="M164.3 409.9L61 355.2" stroke="#d3d3d3" stroke-width=".78" fill="none"/>
<path d="M161.5 394.4L164.3 409.9M158.6 392.8L161.3 408.4M155.6 391.3L158.4 406.8M152.7 389.7L155.4 405.2M149.7 388.1L152.5 403.7M146.8 386.6L149.5 402.1M143.8 385L146.6 400.6M140.9 383.5L143.6 399M137.9 381.9L140.7 397.4M135 380.3L137.7 395.9M132 378.8L134.8 394.3M129.1 377.2L131.8 392.7M126.1 375.6L128.9 391.2M123.2 374.1L125.9 389.6M120.2 372.5L123 388M117.2 370.9L120 386.5M114.3 369.4L117 384.9M111.3 367.8L114.1 383.4M108.4 366.3L111.1 381.8M105.4 364.7L108.2 380.2M102.5 363.1L105.2 378.7M99.5 361.6L102.3 377.1M96.6 360L99.3 375.5M93.6 358.4L96.4 374M90.7 356.9L93.4 372.4M87.7 355.3L90.5 370.9M84.8 353.7L87.5 369.3M81.8 352.2L84.6 367.7M78.9 350.6L81.6 366.2M75.9 349.1L78.7 364.6M73 347.5L75.7 363M70 345.9L72.8 361.5M67.1 344.4L69.8 359.9M64.1 342.8L66.9 358.3M61.2 341.2L63.9 356.8M58.2 339.7L61 355.2" stroke="#e1e1e1" stroke-width=".78" fill="none"/>
<path d="M161.5 394.4L58.2 339.7" stroke="#eeeeee" stroke-width=".78" fill="none"/>
<path d="M25.8 466.6L133.4 523.6M133.4 523.6L270.9 479.5M133.4 523.6l-3 1.2M115.5 514.1l-3 1.2M97.5 504.6l-3 1.2M79.6 495.1l-3 1.2M61.7 485.6l-3 1.2M43.7 476.1l-3 1.2M25.8 466.6l-3 1.2M133.4 523.6l2.6 1.6M167.8 512.6l2.6 1.6M202.2 501.6l2.6 1.6M236.5 490.5l2.6 1.6M270.9 479.5l2.6 1.6M25.8 466.6l-3 -1.6M25.8 435.2l-3 -1.6M25.8 403.9l-3 -1.6M25.8 372.5l-3 -1.6M25.8 341.1l-3 -1.6" fill="none" stroke="#333" stroke-width=".9"/>
<g font-family="Liberation Sans, sans-serif" font-size="7" fill="#333" stroke="#333" stroke-width=".18">
<text transform="translate(22.4,466.2) scale(0.84,1)" text-anchor="end">-0.1</text>
<text transform="translate(22.4,434.8) scale(0.84,1)" text-anchor="end">-0.05</text>
<text transform="translate(22.4,403.5) scale(0.84,1)" text-anchor="end">0</text>
<text transform="translate(22.4,372.1) scale(0.84,1)" text-anchor="end">0.05</text>
<text transform="translate(22.4,340.7) scale(0.84,1)" text-anchor="end">0.1</text>
<text transform="translate(125.4,531) scale(0.84,1)" text-anchor="middle">0</text>
<text transform="translate(107.5,521.5) scale(0.84,1)" text-anchor="middle">5</text>
<text transform="translate(89.5,512) scale(0.84,1)" text-anchor="middle">10</text>
<text transform="translate(71.6,502.5) scale(0.84,1)" text-anchor="middle">15</text>
<text transform="translate(53.7,493) scale(0.84,1)" text-anchor="middle">20</text>
<text transform="translate(35.7,483.5) scale(0.84,1)" text-anchor="middle">25</text>
<text transform="translate(17.8,474) scale(0.84,1)" text-anchor="middle">30</text>
<text transform="translate(141,532.2) scale(0.84,1)" text-anchor="middle">10</text>
<text transform="translate(175.4,521.2) scale(0.84,1)" text-anchor="middle">15</text>
<text transform="translate(209.8,510.2) scale(0.84,1)" text-anchor="middle">20</text>
<text transform="translate(244.1,499.1) scale(0.84,1)" text-anchor="middle">25</text>
<text transform="translate(278.5,488.1) scale(0.84,1)" text-anchor="middle">30</text>
<text transform="translate(74.8,534.8) scale(0.84,1)" text-anchor="middle">y</text>
<text transform="translate(195.9,537.6) scale(0.84,1)" text-anchor="middle">x</text>
<text transform="translate(5.2,403) rotate(-90) scale(0.84,1)" text-anchor="middle">z</text>
</g>
<text x="129.6" y="421.2" font-family="Liberation Sans, sans-serif" font-size="25.5" font-weight="bold" font-style="italic" fill="#000">S</text>
<path d="M560.3 321.6L560.3 503.6L810.3 503.6M560.3 503.6l0 -2.4M560.3 503.6l2.4 0M596 503.6l0 -2.4M560.3 477.6l2.4 0M631.7 503.6l0 -2.4M560.3 451.6l2.4 0M667.4 503.6l0 -2.4M560.3 425.6l2.4 0M703.2 503.6l0 -2.4M560.3 399.6l2.4 0M738.9 503.6l0 -2.4M560.3 373.6l2.4 0M774.6 503.6l0 -2.4M560.3 347.6l2.4 0M810.3 503.6l0 -2.4M560.3 321.6l2.4 0" fill="none" stroke="#686868" stroke-width="1.45"/>
<g font-family="Liberation Sans, sans-serif" font-size="7" fill="#333" stroke="#333" stroke-width=".18">
<text transform="translate(558.8,510.4) scale(0.84,1)" text-anchor="middle">-0.2</text>
<text transform="translate(596,510.4) scale(0.84,1)" text-anchor="middle">0</text>
<text transform="translate(631.7,510.4) scale(0.84,1)" text-anchor="middle">0.2</text>
<text transform="translate(667.4,510.4) scale(0.84,1)" text-anchor="middle">0.4</text>
<text transform="translate(703.2,510.4) scale(0.84,1)" text-anchor="middle">0.6</text>
<text transform="translate(738.9,510.4) scale(0.84,1)" text-anchor="middle">0.8</text>
<text transform="translate(774.6,510.4) scale(0.84,1)" text-anchor="middle">1</text>
<text transform="translate(810.3,510.4) scale(0.84,1)" text-anchor="middle">1.2</text>
<text transform="translate(557.3,505) scale(0.84,1)" text-anchor="end">-0.2</text>
<text transform="translate(557.3,481) scale(0.84,1)" text-anchor="end">0</text>
<text transform="translate(557.3,455) scale(0.84,1)" text-anchor="end">0.2</text>
<text transform="translate(557.3,429) scale(0.84,1)" text-anchor="end">0.4</text>
<text transform="translate(557.3,403) scale(0.84,1)" text-anchor="end">0.6</text>
<text transform="translate(557.3,377) scale(0.84,1)" text-anchor="end">0.8</text>
<text transform="translate(557.3,351) scale(0.84,1)" text-anchor="end">1</text>
<text transform="translate(557.3,325) scale(0.84,1)" text-anchor="end">1.2</text>
<text transform="translate(684.5,520) scale(0.84,1)" text-anchor="middle">u</text>
<text transform="translate(546.5,413) rotate(-90) scale(0.84,1)" text-anchor="middle">v</text>
</g>
<g fill="none" stroke="#5e5e5e" stroke-width="0.65">
<circle cx="575.1" cy="340.1" r="1.62"/><circle cx="573.2" cy="343.6" r="1.62"/><circle cx="572.6" cy="348.8" r="1.62"/><circle cx="572" cy="352.9" r="1.62"/><circle cx="569.8" cy="356.9" r="1.62"/><circle cx="570" cy="361.5" r="1.62"/><circle cx="569" cy="365.6" r="1.62"/><circle cx="568.7" cy="370.4" r="1.62"/><circle cx="568.7" cy="373.7" r="1.62"/><circle cx="567.5" cy="379.9" r="1.62"/><circle cx="567.5" cy="384.4" r="1.62"/><circle cx="566" cy="390" r="1.62"/><circle cx="566.9" cy="395.4" r="1.62"/><circle cx="565.8" cy="401.1" r="1.62"/><circle cx="565.7" cy="408.3" r="1.62"/><circle cx="565.2" cy="413.4" r="1.62"/><circle cx="565.9" cy="418.9" r="1.62"/><circle cx="566.6" cy="426" r="1.62"/><circle cx="566.6" cy="430.6" r="1.62"/><circle cx="567.2" cy="437.4" r="1.62"/><circle cx="568.6" cy="442.4" r="1.62"/><circle cx="567.9" cy="447.5" r="1.62"/><circle cx="568.4" cy="453.1" r="1.62"/><circle cx="569.8" cy="456.9" r="1.62"/><circle cx="570.2" cy="462.8" r="1.62"/><circle cx="571.5" cy="466.7" r="1.62"/><circle cx="572.9" cy="471.3" r="1.62"/><circle cx="575.1" cy="475.4" r="1.62"/><circle cx="575.6" cy="478.3" r="1.62"/><circle cx="578.7" cy="483.1" r="1.62"/><circle cx="579.5" cy="486.2" r="1.62"/><circle cx="580.4" cy="341.7" r="1.62"/><circle cx="579.8" cy="346.5" r="1.62"/><circle cx="578.9" cy="348.8" r="1.62"/><circle cx="579" cy="353.6" r="1.62"/><circle cx="578.2" cy="358.5" r="1.62"/><circle cx="577.3" cy="361.2" r="1.62"/><circle cx="576.4" cy="365.5" r="1.62"/><circle cx="577.1" cy="370.7" r="1.62"/><circle cx="575.7" cy="376.9" r="1.62"/><circle cx="574.9" cy="380.6" r="1.62"/><circle cx="574.5" cy="385.8" r="1.62"/><circle cx="573.6" cy="391.3" r="1.62"/><circle cx="574.2" cy="397.2" r="1.62"/><circle cx="572.7" cy="404" r="1.62"/><circle cx="572.1" cy="410.3" r="1.62"/><circle cx="573.2" cy="415.3" r="1.62"/><circle cx="573.2" cy="421.7" r="1.62"/><circle cx="572.4" cy="426.3" r="1.62"/><circle cx="573.6" cy="433.8" r="1.62"/><circle cx="573.3" cy="438.5" r="1.62"/><circle cx="572.2" cy="443.9" r="1.62"/><circle cx="573.1" cy="449.8" r="1.62"/><circle cx="575" cy="454.1" r="1.62"/><circle cx="574.2" cy="459.1" r="1.62"/><circle cx="575.2" cy="463.3" r="1.62"/><circle cx="577.5" cy="468.3" r="1.62"/><circle cx="577.8" cy="473.7" r="1.62"/><circle cx="580.2" cy="477.2" r="1.62"/><circle cx="582.2" cy="481.3" r="1.62"/><circle cx="583" cy="485.5" r="1.62"/><circle cx="584.9" cy="487.6" r="1.62"/><circle cx="590" cy="342.5" r="1.62"/><circle cx="588.1" cy="347.9" r="1.62"/><circle cx="587.4" cy="350.9" r="1.62"/><circle cx="587.6" cy="354.2" r="1.62"/><circle cx="585.4" cy="360" r="1.62"/><circle cx="584.9" cy="363.1" r="1.62"/><circle cx="583.4" cy="367.5" r="1.62"/><circle cx="584.1" cy="373.1" r="1.62"/><circle cx="582.5" cy="376.5" r="1.62"/><circle cx="581.9" cy="383.1" r="1.62"/><circle cx="581.5" cy="387.1" r="1.62"/><circle cx="581" cy="394.1" r="1.62"/><circle cx="581.4" cy="398.3" r="1.62"/><circle cx="581" cy="404.8" r="1.62"/><circle cx="580.9" cy="411.3" r="1.62"/><circle cx="579.7" cy="416.8" r="1.62"/><circle cx="580" cy="423.2" r="1.62"/><circle cx="579.6" cy="427.4" r="1.62"/><circle cx="580.5" cy="434.2" r="1.62"/><circle cx="582.4" cy="440.3" r="1.62"/><circle cx="582.2" cy="445.3" r="1.62"/><circle cx="582.3" cy="451.8" r="1.62"/><circle cx="584" cy="456.1" r="1.62"/><circle cx="583.6" cy="461.2" r="1.62"/><circle cx="585.3" cy="464.9" r="1.62"/><circle cx="585.8" cy="470.4" r="1.62"/><circle cx="587.4" cy="474.7" r="1.62"/><circle cx="588.5" cy="478.9" r="1.62"/><circle cx="590.2" cy="481.6" r="1.62"/><circle cx="590.9" cy="486.2" r="1.62"/><circle cx="592.4" cy="489.5" r="1.62"/><circle cx="596.3" cy="341.6" r="1.62"/><circle cx="594.5" cy="344.5" r="1.62"/><circle cx="594" cy="349" r="1.62"/><circle cx="593.7" cy="352.3" r="1.62"/><circle cx="592.2" cy="356.2" r="1.62"/><circle cx="592.2" cy="361.5" r="1.62"/><circle cx="591.3" cy="364.5" r="1.62"/><circle cx="592" cy="370" r="1.62"/><circle cx="590.8" cy="373.9" r="1.62"/><circle cx="590.1" cy="380.8" r="1.62"/><circle cx="591" cy="384.9" r="1.62"/><circle cx="590.2" cy="391.1" r="1.62"/><circle cx="590.3" cy="396.6" r="1.62"/><circle cx="590.4" cy="402.5" r="1.62"/><circle cx="590.1" cy="407.8" r="1.62"/><circle cx="590.1" cy="412.8" r="1.62"/><circle cx="590.6" cy="420" r="1.62"/><circle cx="591.2" cy="424.4" r="1.62"/><circle cx="591" cy="431.7" r="1.62"/><circle cx="591.9" cy="435.7" r="1.62"/><circle cx="592.8" cy="441.2" r="1.62"/><circle cx="592.6" cy="447.1" r="1.62"/><circle cx="592.3" cy="452.7" r="1.62"/><circle cx="593.7" cy="456.5" r="1.62"/><circle cx="593" cy="461.9" r="1.62"/><circle cx="593.4" cy="465" r="1.62"/><circle cx="593.7" cy="470.6" r="1.62"/><circle cx="594.7" cy="474" r="1.62"/><circle cx="596.2" cy="477.4" r="1.62"/><circle cx="596.8" cy="480.3" r="1.62"/><circle cx="598.7" cy="485.8" r="1.62"/><circle cx="605.5" cy="340.7" r="1.62"/><circle cx="604" cy="344.1" r="1.62"/><circle cx="604.5" cy="347.5" r="1.62"/><circle cx="604.5" cy="350.9" r="1.62"/><circle cx="602.8" cy="355.7" r="1.62"/><circle cx="601.4" cy="359.7" r="1.62"/><circle cx="601.1" cy="364.5" r="1.62"/><circle cx="601.8" cy="369.1" r="1.62"/><circle cx="600.3" cy="372.4" r="1.62"/><circle cx="600.9" cy="377.7" r="1.62"/><circle cx="601.3" cy="383.1" r="1.62"/><circle cx="600.1" cy="387.7" r="1.62"/><circle cx="599.8" cy="392.7" r="1.62"/><circle cx="601" cy="397.9" r="1.62"/><circle cx="600.6" cy="405" r="1.62"/><circle cx="599.5" cy="408.9" r="1.62"/><circle cx="600.2" cy="415.1" r="1.62"/><circle cx="600" cy="421.4" r="1.62"/><circle cx="599.7" cy="427.2" r="1.62"/><circle cx="601.5" cy="432.1" r="1.62"/><circle cx="602.3" cy="437.9" r="1.62"/><circle cx="602.6" cy="441.8" r="1.62"/><circle cx="601.9" cy="446.3" r="1.62"/><circle cx="603.5" cy="450.9" r="1.62"/><circle cx="603.9" cy="455.3" r="1.62"/><circle cx="604.5" cy="460.1" r="1.62"/><circle cx="605.3" cy="463.9" r="1.62"/><circle cx="604.8" cy="466.7" r="1.62"/><circle cx="605.7" cy="471.6" r="1.62"/><circle cx="607.5" cy="474.4" r="1.62"/><circle cx="607.8" cy="479.6" r="1.62"/><circle cx="611" cy="339.4" r="1.62"/><circle cx="610.3" cy="343.2" r="1.62"/><circle cx="610.4" cy="347.4" r="1.62"/><circle cx="609.9" cy="349.7" r="1.62"/><circle cx="610" cy="354.8" r="1.62"/><circle cx="609.1" cy="356.9" r="1.62"/><circle cx="609.8" cy="362.5" r="1.62"/><circle cx="609.1" cy="365.3" r="1.62"/><circle cx="609.7" cy="370.3" r="1.62"/><circle cx="608.3" cy="375.4" r="1.62"/><circle cx="608.2" cy="380.3" r="1.62"/><circle cx="608.4" cy="384.1" r="1.62"/><circle cx="609.8" cy="389.7" r="1.62"/><circle cx="610.4" cy="395.6" r="1.62"/><circle cx="609.4" cy="399.9" r="1.62"/><circle cx="610.3" cy="406.2" r="1.62"/><circle cx="611.1" cy="410.5" r="1.62"/><circle cx="610.6" cy="416.3" r="1.62"/><circle cx="610.7" cy="422.1" r="1.62"/><circle cx="610.2" cy="426" r="1.62"/><circle cx="610.9" cy="431.2" r="1.62"/><circle cx="610.1" cy="436.3" r="1.62"/><circle cx="612.1" cy="439.6" r="1.62"/><circle cx="612.1" cy="445.8" r="1.62"/><circle cx="611.1" cy="449.7" r="1.62"/><circle cx="612.7" cy="453.7" r="1.62"/><circle cx="611.9" cy="457.3" r="1.62"/><circle cx="613" cy="460.4" r="1.62"/><circle cx="613.5" cy="464.9" r="1.62"/><circle cx="612.5" cy="466.8" r="1.62"/><circle cx="613.1" cy="470.5" r="1.62"/><circle cx="617.3" cy="342.9" r="1.62"/><circle cx="618.1" cy="346.3" r="1.62"/><circle cx="618.5" cy="349" r="1.62"/><circle cx="616.5" cy="353" r="1.62"/><circle cx="617.1" cy="355" r="1.62"/><circle cx="616.6" cy="359.7" r="1.62"/><circle cx="617.2" cy="363" r="1.62"/><circle cx="617.8" cy="367.7" r="1.62"/><circle cx="617.5" cy="370.8" r="1.62"/><circle cx="618.8" cy="376.2" r="1.62"/><circle cx="619.1" cy="381.3" r="1.62"/><circle cx="618.9" cy="384.6" r="1.62"/><circle cx="618.4" cy="389.9" r="1.62"/><circle cx="617.4" cy="394.7" r="1.62"/><circle cx="618.5" cy="400.3" r="1.62"/><circle cx="618.4" cy="406.3" r="1.62"/><circle cx="619.2" cy="410.7" r="1.62"/><circle cx="619.1" cy="416.6" r="1.62"/><circle cx="619.5" cy="421.5" r="1.62"/><circle cx="620" cy="426.8" r="1.62"/><circle cx="619" cy="431.2" r="1.62"/><circle cx="619.5" cy="434.5" r="1.62"/><circle cx="618.7" cy="439.6" r="1.62"/><circle cx="618.7" cy="444.2" r="1.62"/><circle cx="619.1" cy="448.6" r="1.62"/><circle cx="619.5" cy="452.1" r="1.62"/><circle cx="619.4" cy="455.2" r="1.62"/><circle cx="619.9" cy="458" r="1.62"/><circle cx="620.4" cy="461.4" r="1.62"/><circle cx="620.7" cy="464.9" r="1.62"/><circle cx="620.8" cy="470.1" r="1.62"/><circle cx="624.5" cy="339.7" r="1.62"/><circle cx="624.1" cy="342.1" r="1.62"/><circle cx="624.5" cy="346.8" r="1.62"/><circle cx="625.2" cy="349.2" r="1.62"/><circle cx="624.4" cy="354.4" r="1.62"/><circle cx="625.7" cy="357.6" r="1.62"/><circle cx="625" cy="361.5" r="1.62"/><circle cx="625.6" cy="365.8" r="1.62"/><circle cx="625.6" cy="370" r="1.62"/><circle cx="624.4" cy="374.6" r="1.62"/><circle cx="625.7" cy="379.3" r="1.62"/><circle cx="624.8" cy="385.3" r="1.62"/><circle cx="625.1" cy="389.7" r="1.62"/><circle cx="624.2" cy="394.9" r="1.62"/><circle cx="624.2" cy="400.3" r="1.62"/><circle cx="623.9" cy="405.4" r="1.62"/><circle cx="623.5" cy="411.2" r="1.62"/><circle cx="624.3" cy="415.2" r="1.62"/><circle cx="624.5" cy="421.1" r="1.62"/><circle cx="625.6" cy="425.6" r="1.62"/><circle cx="625.5" cy="431" r="1.62"/><circle cx="625.5" cy="436.7" r="1.62"/><circle cx="624.8" cy="441.5" r="1.62"/><circle cx="624.9" cy="444.7" r="1.62"/><circle cx="626.1" cy="450.1" r="1.62"/><circle cx="626.7" cy="453.3" r="1.62"/><circle cx="626.5" cy="457.9" r="1.62"/><circle cx="627.5" cy="461.5" r="1.62"/><circle cx="626.7" cy="464.3" r="1.62"/><circle cx="627.6" cy="467.6" r="1.62"/><circle cx="628.6" cy="472.1" r="1.62"/><circle cx="629.9" cy="340.9" r="1.62"/><circle cx="629.6" cy="342.9" r="1.62"/><circle cx="630.4" cy="346" r="1.62"/><circle cx="630" cy="351.3" r="1.62"/><circle cx="630.9" cy="354.3" r="1.62"/><circle cx="630.9" cy="358.5" r="1.62"/><circle cx="630.4" cy="361.2" r="1.62"/><circle cx="630" cy="365.9" r="1.62"/><circle cx="630.1" cy="369" r="1.62"/><circle cx="631.4" cy="373.9" r="1.62"/><circle cx="631.2" cy="377.9" r="1.62"/><circle cx="631.2" cy="383.2" r="1.62"/><circle cx="631.3" cy="388.4" r="1.62"/><circle cx="631.9" cy="394.7" r="1.62"/><circle cx="633.5" cy="399.3" r="1.62"/><circle cx="633.7" cy="403.7" r="1.62"/><circle cx="633.1" cy="408.9" r="1.62"/><circle cx="633.5" cy="414.9" r="1.62"/><circle cx="633.3" cy="419.8" r="1.62"/><circle cx="631.6" cy="423.5" r="1.62"/><circle cx="631.6" cy="429.2" r="1.62"/><circle cx="633" cy="434.3" r="1.62"/><circle cx="633" cy="438" r="1.62"/><circle cx="633.1" cy="443.3" r="1.62"/><circle cx="633.1" cy="445.9" r="1.62"/><circle cx="632" cy="449.5" r="1.62"/><circle cx="633.3" cy="454.6" r="1.62"/><circle cx="633.1" cy="456.8" r="1.62"/><circle cx="631.4" cy="460.7" r="1.62"/><circle cx="632.9" cy="463.9" r="1.62"/><circle cx="631.6" cy="468.1" r="1.62"/><circle cx="637.3" cy="346.1" r="1.62"/><circle cx="638.1" cy="350.4" r="1.62"/><circle cx="636.9" cy="352.1" r="1.62"/><circle cx="637.7" cy="357" r="1.62"/><circle cx="637.5" cy="360.5" r="1.62"/><circle cx="638.1" cy="363.8" r="1.62"/><circle cx="637.6" cy="367.1" r="1.62"/><circle cx="637.7" cy="371.6" r="1.62"/><circle cx="637.6" cy="375.6" r="1.62"/><circle cx="638.3" cy="379.7" r="1.62"/><circle cx="638.4" cy="384" r="1.62"/><circle cx="638.7" cy="387.7" r="1.62"/><circle cx="638.6" cy="393.5" r="1.62"/><circle cx="638.9" cy="398.4" r="1.62"/><circle cx="638.8" cy="404" r="1.62"/><circle cx="639.2" cy="409.1" r="1.62"/><circle cx="639.7" cy="412.8" r="1.62"/><circle cx="640.2" cy="418" r="1.62"/><circle cx="639.3" cy="424.6" r="1.62"/><circle cx="639.4" cy="428.3" r="1.62"/><circle cx="639.2" cy="433.9" r="1.62"/><circle cx="640.7" cy="437.9" r="1.62"/><circle cx="638.9" cy="441.9" r="1.62"/><circle cx="640" cy="446.2" r="1.62"/><circle cx="638.9" cy="450" r="1.62"/><circle cx="638.8" cy="453.4" r="1.62"/><circle cx="640.4" cy="458.4" r="1.62"/><circle cx="639.7" cy="460.2" r="1.62"/><circle cx="639.8" cy="465" r="1.62"/><circle cx="638.8" cy="467.7" r="1.62"/><circle cx="638.7" cy="470.1" r="1.62"/><circle cx="645.2" cy="347.3" r="1.62"/><circle cx="646.2" cy="351.8" r="1.62"/><circle cx="645.7" cy="354.8" r="1.62"/><circle cx="646.7" cy="357.4" r="1.62"/><circle cx="646.7" cy="360.6" r="1.62"/><circle cx="646.5" cy="365.2" r="1.62"/><circle cx="646.5" cy="368.9" r="1.62"/><circle cx="646.4" cy="372" r="1.62"/><circle cx="645.8" cy="377.3" r="1.62"/><circle cx="646" cy="380.6" r="1.62"/><circle cx="646.3" cy="386.3" r="1.62"/><circle cx="645.8" cy="389.9" r="1.62"/><circle cx="647.1" cy="395.4" r="1.62"/><circle cx="647.5" cy="398.7" r="1.62"/><circle cx="646.3" cy="404.2" r="1.62"/><circle cx="647.1" cy="410.5" r="1.62"/><circle cx="646.9" cy="415" r="1.62"/><circle cx="646.5" cy="419.3" r="1.62"/><circle cx="647.3" cy="424.9" r="1.62"/><circle cx="648.1" cy="428.4" r="1.62"/><circle cx="647.4" cy="434.5" r="1.62"/><circle cx="647.7" cy="438.8" r="1.62"/><circle cx="648.3" cy="443.3" r="1.62"/><circle cx="647" cy="448" r="1.62"/><circle cx="647.1" cy="451.8" r="1.62"/><circle cx="648.4" cy="454.3" r="1.62"/><circle cx="647.6" cy="457.3" r="1.62"/><circle cx="647.5" cy="461.3" r="1.62"/><circle cx="646.5" cy="465.5" r="1.62"/><circle cx="647.1" cy="467.6" r="1.62"/><circle cx="646.5" cy="471.6" r="1.62"/><circle cx="656.2" cy="350.6" r="1.62"/><circle cx="657" cy="352.5" r="1.62"/><circle cx="656" cy="355.9" r="1.62"/><circle cx="657.3" cy="360.8" r="1.62"/><circle cx="657.5" cy="363.2" r="1.62"/><circle cx="657.6" cy="366.7" r="1.62"/><circle cx="657.3" cy="370" r="1.62"/><circle cx="657.3" cy="374.9" r="1.62"/><circle cx="656.4" cy="377.9" r="1.62"/><circle cx="655.8" cy="383.4" r="1.62"/><circle cx="655.2" cy="388" r="1.62"/><circle cx="655.7" cy="392.9" r="1.62"/><circle cx="655.3" cy="396.9" r="1.62"/><circle cx="655.4" cy="401.5" r="1.62"/><circle cx="655.9" cy="407.3" r="1.62"/><circle cx="656.6" cy="411.9" r="1.62"/><circle cx="656.4" cy="417.7" r="1.62"/><circle cx="657.5" cy="422.7" r="1.62"/><circle cx="656.4" cy="426.7" r="1.62"/><circle cx="657.2" cy="432.1" r="1.62"/><circle cx="655.6" cy="436" r="1.62"/><circle cx="657.1" cy="441" r="1.62"/><circle cx="657.2" cy="445.6" r="1.62"/><circle cx="657.3" cy="450.3" r="1.62"/><circle cx="657.3" cy="452.4" r="1.62"/><circle cx="656.9" cy="456.3" r="1.62"/><circle cx="657.6" cy="461" r="1.62"/><circle cx="656.6" cy="463.7" r="1.62"/><circle cx="657" cy="467.3" r="1.62"/><circle cx="656.3" cy="471.7" r="1.62"/><circle cx="655.7" cy="473.6" r="1.62"/><circle cx="667.9" cy="355.9" r="1.62"/><circle cx="667" cy="357.9" r="1.62"/><circle cx="666.8" cy="361.8" r="1.62"/><circle cx="667.6" cy="365.7" r="1.62"/><circle cx="667.9" cy="368.3" r="1.62"/><circle cx="667.4" cy="372.7" r="1.62"/><circle cx="666.7" cy="375.3" r="1.62"/><circle cx="668.1" cy="380.4" r="1.62"/><circle cx="666.7" cy="383.7" r="1.62"/><circle cx="667.2" cy="387.6" r="1.62"/><circle cx="666.9" cy="392.3" r="1.62"/><circle cx="666.3" cy="398.3" r="1.62"/><circle cx="665.9" cy="401.6" r="1.62"/><circle cx="665.5" cy="407.4" r="1.62"/><circle cx="665.6" cy="411.7" r="1.62"/><circle cx="664.9" cy="416.2" r="1.62"/><circle cx="666.1" cy="422.3" r="1.62"/><circle cx="665.2" cy="427.3" r="1.62"/><circle cx="665.4" cy="430.5" r="1.62"/><circle cx="665.2" cy="435.3" r="1.62"/><circle cx="664.8" cy="441.3" r="1.62"/><circle cx="665.3" cy="446" r="1.62"/><circle cx="664.7" cy="449.1" r="1.62"/><circle cx="665.3" cy="453.1" r="1.62"/><circle cx="665.3" cy="457.9" r="1.62"/><circle cx="666.7" cy="461" r="1.62"/><circle cx="665.4" cy="464.9" r="1.62"/><circle cx="665.4" cy="469" r="1.62"/><circle cx="666.2" cy="472.2" r="1.62"/><circle cx="665.4" cy="475.5" r="1.62"/><circle cx="665.1" cy="477.9" r="1.62"/><circle cx="678.7" cy="359.4" r="1.62"/><circle cx="677.7" cy="361.8" r="1.62"/><circle cx="678.1" cy="365.2" r="1.62"/><circle cx="678.2" cy="369" r="1.62"/><circle cx="676.7" cy="372.3" r="1.62"/><circle cx="677.2" cy="375.5" r="1.62"/><circle cx="676.7" cy="379.6" r="1.62"/><circle cx="676.2" cy="384.3" r="1.62"/><circle cx="676.6" cy="389.1" r="1.62"/><circle cx="677.2" cy="391.9" r="1.62"/><circle cx="675.8" cy="396.7" r="1.62"/><circle cx="676.7" cy="401.7" r="1.62"/><circle cx="675.4" cy="406.4" r="1.62"/><circle cx="675.2" cy="411.6" r="1.62"/><circle cx="675.6" cy="417.2" r="1.62"/><circle cx="675.5" cy="421.9" r="1.62"/><circle cx="675.4" cy="427.5" r="1.62"/><circle cx="675.7" cy="432.8" r="1.62"/><circle cx="675.2" cy="437" r="1.62"/><circle cx="674.3" cy="441.3" r="1.62"/><circle cx="675.2" cy="447.6" r="1.62"/><circle cx="675.7" cy="450.8" r="1.62"/><circle cx="675.8" cy="455.3" r="1.62"/><circle cx="675.1" cy="459.2" r="1.62"/><circle cx="674.9" cy="464" r="1.62"/><circle cx="675" cy="468" r="1.62"/><circle cx="676.2" cy="471.3" r="1.62"/><circle cx="675.5" cy="475.1" r="1.62"/><circle cx="675.2" cy="478.8" r="1.62"/><circle cx="676.2" cy="481" r="1.62"/><circle cx="675.1" cy="484.6" r="1.62"/><circle cx="684" cy="358" r="1.62"/><circle cx="683.6" cy="362" r="1.62"/><circle cx="682.5" cy="364.4" r="1.62"/><circle cx="683.6" cy="368.6" r="1.62"/><circle cx="683.3" cy="371.3" r="1.62"/><circle cx="682.6" cy="375.6" r="1.62"/><circle cx="683.9" cy="380.1" r="1.62"/><circle cx="682.6" cy="382.6" r="1.62"/><circle cx="684.1" cy="388.6" r="1.62"/><circle cx="683.7" cy="391.7" r="1.62"/><circle cx="683.9" cy="396.3" r="1.62"/><circle cx="683.5" cy="401" r="1.62"/><circle cx="683.3" cy="406.9" r="1.62"/><circle cx="682.1" cy="411.4" r="1.62"/><circle cx="683.2" cy="416" r="1.62"/><circle cx="682.4" cy="420.1" r="1.62"/><circle cx="681.4" cy="426.7" r="1.62"/><circle cx="681.6" cy="430.2" r="1.62"/><circle cx="682.3" cy="436.8" r="1.62"/><circle cx="681" cy="441.6" r="1.62"/><circle cx="682.3" cy="445.7" r="1.62"/><circle cx="681.9" cy="449.3" r="1.62"/><circle cx="681.7" cy="454.3" r="1.62"/><circle cx="680.1" cy="458.5" r="1.62"/><circle cx="681" cy="461.6" r="1.62"/><circle cx="680" cy="466.3" r="1.62"/><circle cx="680.7" cy="470.1" r="1.62"/><circle cx="679.9" cy="473.8" r="1.62"/><circle cx="680.5" cy="477.3" r="1.62"/><circle cx="681.1" cy="479.7" r="1.62"/><circle cx="681.5" cy="482.8" r="1.62"/><circle cx="690.2" cy="357.6" r="1.62"/><circle cx="690.5" cy="360.7" r="1.62"/><circle cx="690.3" cy="364.7" r="1.62"/><circle cx="689.3" cy="368.9" r="1.62"/><circle cx="688.9" cy="371.5" r="1.62"/><circle cx="687.8" cy="375.6" r="1.62"/><circle cx="688.6" cy="379.4" r="1.62"/><circle cx="688" cy="383.1" r="1.62"/><circle cx="688.9" cy="387.6" r="1.62"/><circle cx="687.9" cy="392" r="1.62"/><circle cx="689" cy="396.8" r="1.62"/><circle cx="688.7" cy="400.5" r="1.62"/><circle cx="688.1" cy="405.6" r="1.62"/><circle cx="688.1" cy="411.2" r="1.62"/><circle cx="687.5" cy="415.4" r="1.62"/><circle cx="687.1" cy="420.2" r="1.62"/><circle cx="687.5" cy="426.2" r="1.62"/><circle cx="687.5" cy="430.7" r="1.62"/><circle cx="688.7" cy="434.7" r="1.62"/><circle cx="688.6" cy="441" r="1.62"/><circle cx="688.9" cy="443.9" r="1.62"/><circle cx="687.7" cy="449.6" r="1.62"/><circle cx="687.3" cy="453.5" r="1.62"/><circle cx="687.1" cy="456.9" r="1.62"/><circle cx="687.2" cy="461.5" r="1.62"/><circle cx="686.8" cy="465.8" r="1.62"/><circle cx="686.2" cy="468.3" r="1.62"/><circle cx="686.7" cy="473.1" r="1.62"/><circle cx="686.9" cy="476.6" r="1.62"/><circle cx="686.8" cy="479.7" r="1.62"/><circle cx="687.9" cy="481.7" r="1.62"/><circle cx="696.9" cy="356.7" r="1.62"/><circle cx="697.8" cy="359.5" r="1.62"/><circle cx="696.8" cy="364.4" r="1.62"/><circle cx="696.3" cy="367.3" r="1.62"/><circle cx="695.8" cy="370.1" r="1.62"/><circle cx="695.4" cy="373.9" r="1.62"/><circle cx="695.7" cy="378.4" r="1.62"/><circle cx="695.7" cy="380.3" r="1.62"/><circle cx="694.9" cy="385.4" r="1.62"/><circle cx="694.8" cy="388.6" r="1.62"/><circle cx="695.6" cy="393.1" r="1.62"/><circle cx="694.7" cy="399" r="1.62"/><circle cx="694" cy="404.2" r="1.62"/><circle cx="695.6" cy="407.9" r="1.62"/><circle cx="694.4" cy="413.7" r="1.62"/><circle cx="695.2" cy="418.8" r="1.62"/><circle cx="694.5" cy="422.6" r="1.62"/><circle cx="694.7" cy="427.2" r="1.62"/><circle cx="694.8" cy="432.4" r="1.62"/><circle cx="694.7" cy="436.6" r="1.62"/><circle cx="694.5" cy="442.2" r="1.62"/><circle cx="696" cy="445.3" r="1.62"/><circle cx="696" cy="451.3" r="1.62"/><circle cx="696.3" cy="453.4" r="1.62"/><circle cx="695.5" cy="458.5" r="1.62"/><circle cx="695.1" cy="461.7" r="1.62"/><circle cx="694.6" cy="466.2" r="1.62"/><circle cx="695.9" cy="468.8" r="1.62"/><circle cx="695" cy="472.5" r="1.62"/><circle cx="694.1" cy="476.2" r="1.62"/><circle cx="694.1" cy="478" r="1.62"/><circle cx="702.8" cy="358.3" r="1.62"/><circle cx="703.3" cy="362.3" r="1.62"/><circle cx="703.3" cy="365.6" r="1.62"/><circle cx="703.7" cy="369" r="1.62"/><circle cx="704.6" cy="370.8" r="1.62"/><circle cx="704.5" cy="373.9" r="1.62"/><circle cx="704.3" cy="377.4" r="1.62"/><circle cx="704.5" cy="382" r="1.62"/><circle cx="703.4" cy="385.7" r="1.62"/><circle cx="704.6" cy="389.2" r="1.62"/><circle cx="705.4" cy="393.6" r="1.62"/><circle cx="704.2" cy="399" r="1.62"/><circle cx="705.7" cy="401.8" r="1.62"/><circle cx="704.8" cy="408" r="1.62"/><circle cx="704.1" cy="412.5" r="1.62"/><circle cx="705.4" cy="416.6" r="1.62"/><circle cx="704.3" cy="420.3" r="1.62"/><circle cx="703.6" cy="425.5" r="1.62"/><circle cx="703.9" cy="430.3" r="1.62"/><circle cx="702.9" cy="434.7" r="1.62"/><circle cx="702.7" cy="439.3" r="1.62"/><circle cx="703" cy="443.7" r="1.62"/><circle cx="703.9" cy="446.6" r="1.62"/><circle cx="703.6" cy="449.9" r="1.62"/><circle cx="702.2" cy="455.2" r="1.62"/><circle cx="703.2" cy="457.9" r="1.62"/><circle cx="702.5" cy="460.5" r="1.62"/><circle cx="701.8" cy="464.2" r="1.62"/><circle cx="701.8" cy="468.1" r="1.62"/><circle cx="701.4" cy="471.1" r="1.62"/><circle cx="702.1" cy="473" r="1.62"/><circle cx="714" cy="354.3" r="1.62"/><circle cx="712.9" cy="356.7" r="1.62"/><circle cx="712.5" cy="359.9" r="1.62"/><circle cx="712.6" cy="364.4" r="1.62"/><circle cx="712.8" cy="366.7" r="1.62"/><circle cx="711.8" cy="370.5" r="1.62"/><circle cx="712.5" cy="373.6" r="1.62"/><circle cx="712.1" cy="377.7" r="1.62"/><circle cx="713.8" cy="382.8" r="1.62"/><circle cx="713.5" cy="386.3" r="1.62"/><circle cx="713.2" cy="390.8" r="1.62"/><circle cx="713.3" cy="394.8" r="1.62"/><circle cx="714.3" cy="398.7" r="1.62"/><circle cx="714.4" cy="403.2" r="1.62"/><circle cx="713.6" cy="408.4" r="1.62"/><circle cx="714.7" cy="414.7" r="1.62"/><circle cx="714.7" cy="418.6" r="1.62"/><circle cx="714.1" cy="423.3" r="1.62"/><circle cx="715.2" cy="428" r="1.62"/><circle cx="714.1" cy="432.1" r="1.62"/><circle cx="714.8" cy="436.8" r="1.62"/><circle cx="714.3" cy="441.6" r="1.62"/><circle cx="714" cy="445.8" r="1.62"/><circle cx="714.8" cy="450.2" r="1.62"/><circle cx="714.7" cy="453.8" r="1.62"/><circle cx="713.4" cy="458.3" r="1.62"/><circle cx="713.2" cy="461.2" r="1.62"/><circle cx="714.7" cy="464.5" r="1.62"/><circle cx="714.4" cy="467.1" r="1.62"/><circle cx="714.1" cy="470.2" r="1.62"/><circle cx="713.1" cy="472.9" r="1.62"/><circle cx="721.4" cy="352.3" r="1.62"/><circle cx="722.1" cy="355.2" r="1.62"/><circle cx="721.6" cy="357.6" r="1.62"/><circle cx="721.7" cy="362.3" r="1.62"/><circle cx="721.6" cy="365.7" r="1.62"/><circle cx="721.6" cy="369.1" r="1.62"/><circle cx="721.8" cy="372.9" r="1.62"/><circle cx="720.6" cy="376.4" r="1.62"/><circle cx="721.1" cy="380" r="1.62"/><circle cx="721" cy="384" r="1.62"/><circle cx="721.5" cy="388.7" r="1.62"/><circle cx="721.2" cy="393.2" r="1.62"/><circle cx="721.1" cy="397.1" r="1.62"/><circle cx="722.8" cy="401.2" r="1.62"/><circle cx="723" cy="407.7" r="1.62"/><circle cx="722.8" cy="412.6" r="1.62"/><circle cx="723.2" cy="415.8" r="1.62"/><circle cx="722.9" cy="420.3" r="1.62"/><circle cx="723.1" cy="426" r="1.62"/><circle cx="723.2" cy="430" r="1.62"/><circle cx="724" cy="435.2" r="1.62"/><circle cx="724" cy="439" r="1.62"/><circle cx="723.5" cy="443.4" r="1.62"/><circle cx="723.5" cy="448.2" r="1.62"/><circle cx="723.4" cy="451.4" r="1.62"/><circle cx="724.9" cy="455.6" r="1.62"/><circle cx="723.2" cy="458.5" r="1.62"/><circle cx="722.9" cy="462.1" r="1.62"/><circle cx="723.5" cy="465.9" r="1.62"/><circle cx="724.2" cy="468.4" r="1.62"/><circle cx="723.6" cy="472.1" r="1.62"/><circle cx="730.7" cy="348.8" r="1.62"/><circle cx="731" cy="351" r="1.62"/><circle cx="730.6" cy="353.9" r="1.62"/><circle cx="730.6" cy="357.6" r="1.62"/><circle cx="732.2" cy="361" r="1.62"/><circle cx="731" cy="365.8" r="1.62"/><circle cx="731.3" cy="369.4" r="1.62"/><circle cx="732.3" cy="371.6" r="1.62"/><circle cx="732.2" cy="376.2" r="1.62"/><circle cx="732" cy="380.1" r="1.62"/><circle cx="732.2" cy="386.2" r="1.62"/><circle cx="731.8" cy="391.1" r="1.62"/><circle cx="731.5" cy="394.2" r="1.62"/><circle cx="732.6" cy="400.8" r="1.62"/><circle cx="732.4" cy="405.1" r="1.62"/><circle cx="731.5" cy="409.1" r="1.62"/><circle cx="731.9" cy="415" r="1.62"/><circle cx="732.2" cy="420.2" r="1.62"/><circle cx="733.3" cy="424.6" r="1.62"/><circle cx="731.9" cy="429.5" r="1.62"/><circle cx="732.3" cy="435.2" r="1.62"/><circle cx="732.5" cy="439.7" r="1.62"/><circle cx="733" cy="443.9" r="1.62"/><circle cx="731.8" cy="446.9" r="1.62"/><circle cx="732.2" cy="451.2" r="1.62"/><circle cx="733.7" cy="454.9" r="1.62"/><circle cx="734.1" cy="459.5" r="1.62"/><circle cx="733.3" cy="462.2" r="1.62"/><circle cx="733.1" cy="464.8" r="1.62"/><circle cx="734.3" cy="468.7" r="1.62"/><circle cx="734.3" cy="472.3" r="1.62"/><circle cx="739.2" cy="344.8" r="1.62"/><circle cx="738.2" cy="346.6" r="1.62"/><circle cx="738.8" cy="350.9" r="1.62"/><circle cx="739" cy="354.4" r="1.62"/><circle cx="738" cy="356.7" r="1.62"/><circle cx="739.3" cy="360.9" r="1.62"/><circle cx="738.3" cy="365.3" r="1.62"/><circle cx="738" cy="370.3" r="1.62"/><circle cx="739.6" cy="373.8" r="1.62"/><circle cx="738.3" cy="377.5" r="1.62"/><circle cx="738.9" cy="382.4" r="1.62"/><circle cx="738.1" cy="387.6" r="1.62"/><circle cx="738.6" cy="392.9" r="1.62"/><circle cx="738.2" cy="396.7" r="1.62"/><circle cx="739.2" cy="402.5" r="1.62"/><circle cx="738.4" cy="407.5" r="1.62"/><circle cx="738.8" cy="414" r="1.62"/><circle cx="739.4" cy="417.8" r="1.62"/><circle cx="740.2" cy="422.5" r="1.62"/><circle cx="738.9" cy="428.5" r="1.62"/><circle cx="739" cy="433.9" r="1.62"/><circle cx="739.9" cy="438.2" r="1.62"/><circle cx="739.4" cy="441.8" r="1.62"/><circle cx="741" cy="445.6" r="1.62"/><circle cx="739.6" cy="450.8" r="1.62"/><circle cx="739.8" cy="454.4" r="1.62"/><circle cx="741.6" cy="458.6" r="1.62"/><circle cx="741.4" cy="461.5" r="1.62"/><circle cx="741.3" cy="464.3" r="1.62"/><circle cx="741" cy="468.7" r="1.62"/><circle cx="741.9" cy="472.4" r="1.62"/><circle cx="744.7" cy="344" r="1.62"/><circle cx="745.4" cy="346.2" r="1.62"/><circle cx="745.3" cy="349.3" r="1.62"/><circle cx="744.3" cy="353.8" r="1.62"/><circle cx="745.7" cy="356.3" r="1.62"/><circle cx="744.7" cy="360.5" r="1.62"/><circle cx="744.9" cy="365" r="1.62"/><circle cx="746" cy="368.3" r="1.62"/><circle cx="744.8" cy="373.6" r="1.62"/><circle cx="746.4" cy="377.4" r="1.62"/><circle cx="745.5" cy="382.7" r="1.62"/><circle cx="745.1" cy="387.4" r="1.62"/><circle cx="744.3" cy="392.3" r="1.62"/><circle cx="744.9" cy="396.9" r="1.62"/><circle cx="744.9" cy="402.4" r="1.62"/><circle cx="744.8" cy="406.4" r="1.62"/><circle cx="745.8" cy="411.5" r="1.62"/><circle cx="744.8" cy="417.2" r="1.62"/><circle cx="745.9" cy="422.9" r="1.62"/><circle cx="745.5" cy="426.7" r="1.62"/><circle cx="746" cy="431.8" r="1.62"/><circle cx="744.9" cy="437.8" r="1.62"/><circle cx="746.1" cy="441.2" r="1.62"/><circle cx="745.3" cy="446.6" r="1.62"/><circle cx="745.7" cy="449.3" r="1.62"/><circle cx="746.3" cy="453.1" r="1.62"/><circle cx="746.3" cy="456.8" r="1.62"/><circle cx="746.6" cy="459.9" r="1.62"/><circle cx="747.1" cy="465.2" r="1.62"/><circle cx="748.2" cy="467.9" r="1.62"/><circle cx="747.6" cy="471.5" r="1.62"/><circle cx="750.9" cy="342.1" r="1.62"/><circle cx="751.9" cy="344.7" r="1.62"/><circle cx="752" cy="349.9" r="1.62"/><circle cx="751.2" cy="352.1" r="1.62"/><circle cx="751.7" cy="357.2" r="1.62"/><circle cx="750.4" cy="360.1" r="1.62"/><circle cx="751.2" cy="364.8" r="1.62"/><circle cx="751" cy="368.6" r="1.62"/><circle cx="752" cy="373.2" r="1.62"/><circle cx="752.1" cy="376.5" r="1.62"/><circle cx="751" cy="381.3" r="1.62"/><circle cx="750.5" cy="387.2" r="1.62"/><circle cx="750.3" cy="392.5" r="1.62"/><circle cx="750.5" cy="396.8" r="1.62"/><circle cx="751.4" cy="403" r="1.62"/><circle cx="750.5" cy="407" r="1.62"/><circle cx="750.4" cy="413.4" r="1.62"/><circle cx="751.5" cy="418.3" r="1.62"/><circle cx="751.1" cy="424.2" r="1.62"/><circle cx="751.4" cy="428.4" r="1.62"/><circle cx="752.6" cy="433.2" r="1.62"/><circle cx="752.2" cy="439.7" r="1.62"/><circle cx="753.1" cy="444.1" r="1.62"/><circle cx="751.9" cy="448.6" r="1.62"/><circle cx="752.3" cy="451.4" r="1.62"/><circle cx="753.5" cy="455.7" r="1.62"/><circle cx="752.2" cy="458.8" r="1.62"/><circle cx="752.6" cy="463.9" r="1.62"/><circle cx="753.1" cy="466.1" r="1.62"/><circle cx="753.6" cy="469.6" r="1.62"/><circle cx="753.8" cy="473.8" r="1.62"/><circle cx="759.4" cy="338.7" r="1.62"/><circle cx="759.5" cy="342.9" r="1.62"/><circle cx="759.2" cy="347.1" r="1.62"/><circle cx="758.8" cy="349.6" r="1.62"/><circle cx="759.5" cy="355.3" r="1.62"/><circle cx="758.4" cy="358.8" r="1.62"/><circle cx="758.8" cy="363" r="1.62"/><circle cx="759.2" cy="367.1" r="1.62"/><circle cx="759.5" cy="371.2" r="1.62"/><circle cx="759.5" cy="375.6" r="1.62"/><circle cx="759.9" cy="380.9" r="1.62"/><circle cx="760.7" cy="386.1" r="1.62"/><circle cx="760.1" cy="392.7" r="1.62"/><circle cx="760.2" cy="398.5" r="1.62"/><circle cx="759.6" cy="403.5" r="1.62"/><circle cx="759" cy="408.6" r="1.62"/><circle cx="759.7" cy="414.9" r="1.62"/><circle cx="760.3" cy="419.7" r="1.62"/><circle cx="759.5" cy="426.8" r="1.62"/><circle cx="759.6" cy="430.6" r="1.62"/><circle cx="760.1" cy="436.3" r="1.62"/><circle cx="759.4" cy="441" r="1.62"/><circle cx="758.9" cy="446.4" r="1.62"/><circle cx="758.4" cy="450.7" r="1.62"/><circle cx="758.8" cy="455.6" r="1.62"/><circle cx="759.2" cy="460.7" r="1.62"/><circle cx="759.1" cy="465.2" r="1.62"/><circle cx="760" cy="468.2" r="1.62"/><circle cx="759.5" cy="472.1" r="1.62"/><circle cx="760" cy="476.3" r="1.62"/><circle cx="760" cy="478.8" r="1.62"/><circle cx="767.2" cy="342.1" r="1.62"/><circle cx="767.3" cy="345.2" r="1.62"/><circle cx="767.6" cy="349.3" r="1.62"/><circle cx="767.7" cy="352" r="1.62"/><circle cx="767.9" cy="356.2" r="1.62"/><circle cx="768.9" cy="361.1" r="1.62"/><circle cx="768.8" cy="364.7" r="1.62"/><circle cx="768.4" cy="369.9" r="1.62"/><circle cx="767.1" cy="375.8" r="1.62"/><circle cx="766.8" cy="380.8" r="1.62"/><circle cx="767.8" cy="385.6" r="1.62"/><circle cx="768.5" cy="391.4" r="1.62"/><circle cx="768.7" cy="396.9" r="1.62"/><circle cx="768.5" cy="401.8" r="1.62"/><circle cx="769" cy="408.1" r="1.62"/><circle cx="769.2" cy="413.8" r="1.62"/><circle cx="769.1" cy="420.9" r="1.62"/><circle cx="769.8" cy="425.8" r="1.62"/><circle cx="769.6" cy="432.4" r="1.62"/><circle cx="769.6" cy="438.1" r="1.62"/><circle cx="769.8" cy="441.7" r="1.62"/><circle cx="769.5" cy="448.3" r="1.62"/><circle cx="769.3" cy="452" r="1.62"/><circle cx="769.4" cy="457.5" r="1.62"/><circle cx="768.1" cy="463.4" r="1.62"/><circle cx="769" cy="466.9" r="1.62"/><circle cx="768.3" cy="471.7" r="1.62"/><circle cx="767.5" cy="474.3" r="1.62"/><circle cx="767.1" cy="478" r="1.62"/><circle cx="766.3" cy="482.8" r="1.62"/><circle cx="766.9" cy="486.2" r="1.62"/><circle cx="776.6" cy="342.7" r="1.62"/><circle cx="777.7" cy="346.4" r="1.62"/><circle cx="778.3" cy="350.5" r="1.62"/><circle cx="778" cy="353.7" r="1.62"/><circle cx="779.3" cy="357.9" r="1.62"/><circle cx="779.7" cy="362.8" r="1.62"/><circle cx="778.9" cy="367" r="1.62"/><circle cx="778.8" cy="371.4" r="1.62"/><circle cx="779.4" cy="376" r="1.62"/><circle cx="778.6" cy="380.7" r="1.62"/><circle cx="778.5" cy="386.9" r="1.62"/><circle cx="779.1" cy="391" r="1.62"/><circle cx="778.9" cy="396.5" r="1.62"/><circle cx="779.5" cy="402.5" r="1.62"/><circle cx="778.9" cy="407.6" r="1.62"/><circle cx="779.3" cy="415.3" r="1.62"/><circle cx="779.3" cy="420.3" r="1.62"/><circle cx="779" cy="425.5" r="1.62"/><circle cx="778.9" cy="430.7" r="1.62"/><circle cx="778" cy="436.6" r="1.62"/><circle cx="776.6" cy="441.9" r="1.62"/><circle cx="777.6" cy="446.7" r="1.62"/><circle cx="777.4" cy="452.4" r="1.62"/><circle cx="777.3" cy="457.1" r="1.62"/><circle cx="776.6" cy="460.9" r="1.62"/><circle cx="776.4" cy="467" r="1.62"/><circle cx="775.5" cy="470.6" r="1.62"/><circle cx="776.1" cy="474.2" r="1.62"/><circle cx="775.3" cy="478.1" r="1.62"/><circle cx="776.9" cy="481.4" r="1.62"/><circle cx="776.5" cy="485.6" r="1.62"/><circle cx="784.7" cy="343.6" r="1.62"/><circle cx="786.1" cy="346.6" r="1.62"/><circle cx="787.5" cy="350.3" r="1.62"/><circle cx="788.9" cy="354.5" r="1.62"/><circle cx="789.2" cy="357.6" r="1.62"/><circle cx="788.1" cy="361" r="1.62"/><circle cx="788.6" cy="366.9" r="1.62"/><circle cx="788.9" cy="371" r="1.62"/><circle cx="788.1" cy="374.8" r="1.62"/><circle cx="788.2" cy="379.6" r="1.62"/><circle cx="788.3" cy="384.6" r="1.62"/><circle cx="787.1" cy="390.3" r="1.62"/><circle cx="787.7" cy="396.6" r="1.62"/><circle cx="787.7" cy="400.9" r="1.62"/><circle cx="787.7" cy="407.3" r="1.62"/><circle cx="787.6" cy="412.7" r="1.62"/><circle cx="787.8" cy="417.8" r="1.62"/><circle cx="786.5" cy="424.6" r="1.62"/><circle cx="786" cy="429" r="1.62"/><circle cx="786.7" cy="435.5" r="1.62"/><circle cx="786.3" cy="440.3" r="1.62"/><circle cx="786.4" cy="445.4" r="1.62"/><circle cx="786.4" cy="450.3" r="1.62"/><circle cx="785.4" cy="454.4" r="1.62"/><circle cx="785.4" cy="459" r="1.62"/><circle cx="785.6" cy="464.2" r="1.62"/><circle cx="785.2" cy="467.1" r="1.62"/><circle cx="784.5" cy="472.7" r="1.62"/><circle cx="785.3" cy="476.4" r="1.62"/><circle cx="783.8" cy="479.4" r="1.62"/><circle cx="784.7" cy="482" r="1.62"/><circle cx="792.1" cy="340.3" r="1.62"/><circle cx="793.8" cy="345.3" r="1.62"/><circle cx="795.6" cy="348.9" r="1.62"/><circle cx="796.1" cy="352.8" r="1.62"/><circle cx="796.2" cy="356.2" r="1.62"/><circle cx="796.7" cy="360.4" r="1.62"/><circle cx="795.2" cy="364.5" r="1.62"/><circle cx="796.1" cy="369.8" r="1.62"/><circle cx="795.4" cy="372.9" r="1.62"/><circle cx="795.9" cy="378.9" r="1.62"/><circle cx="794.9" cy="384.6" r="1.62"/><circle cx="794.5" cy="389.8" r="1.62"/><circle cx="795.2" cy="394.7" r="1.62"/><circle cx="794.4" cy="400.4" r="1.62"/><circle cx="794.6" cy="405.4" r="1.62"/><circle cx="795.2" cy="410.8" r="1.62"/><circle cx="794.1" cy="416.8" r="1.62"/><circle cx="794.1" cy="424" r="1.62"/><circle cx="793" cy="428.6" r="1.62"/><circle cx="794.1" cy="434" r="1.62"/><circle cx="793.9" cy="439.4" r="1.62"/><circle cx="794.3" cy="444.3" r="1.62"/><circle cx="793.4" cy="449.7" r="1.62"/><circle cx="793.6" cy="454.4" r="1.62"/><circle cx="793.5" cy="459.7" r="1.62"/><circle cx="793.8" cy="463.1" r="1.62"/><circle cx="793.6" cy="468.2" r="1.62"/><circle cx="791.9" cy="471.9" r="1.62"/><circle cx="793.1" cy="475" r="1.62"/><circle cx="792.7" cy="479.6" r="1.62"/><circle cx="792.6" cy="483.3" r="1.62"/><circle cx="794.9" cy="341.7" r="1.62"/><circle cx="797.8" cy="345.5" r="1.62"/><circle cx="800.8" cy="349.1" r="1.62"/><circle cx="802.1" cy="353.3" r="1.62"/><circle cx="802.2" cy="356.8" r="1.62"/><circle cx="802.8" cy="360.8" r="1.62"/><circle cx="801.3" cy="366.1" r="1.62"/><circle cx="802.1" cy="369.9" r="1.62"/><circle cx="802.6" cy="373.7" r="1.62"/><circle cx="802.5" cy="379.4" r="1.62"/><circle cx="802.3" cy="383.9" r="1.62"/><circle cx="801.4" cy="390.3" r="1.62"/><circle cx="801.1" cy="395.1" r="1.62"/><circle cx="802.6" cy="402" r="1.62"/><circle cx="800.8" cy="407.2" r="1.62"/><circle cx="801.5" cy="412.5" r="1.62"/><circle cx="799.9" cy="418.2" r="1.62"/><circle cx="799.5" cy="424.1" r="1.62"/><circle cx="799.7" cy="428.8" r="1.62"/><circle cx="798.8" cy="434.5" r="1.62"/><circle cx="798.3" cy="438.9" r="1.62"/><circle cx="798.2" cy="444.8" r="1.62"/><circle cx="799.7" cy="450.2" r="1.62"/><circle cx="798.1" cy="454" r="1.62"/><circle cx="798.1" cy="459.5" r="1.62"/><circle cx="797.8" cy="462.6" r="1.62"/><circle cx="797.5" cy="467.8" r="1.62"/><circle cx="797.2" cy="470.3" r="1.62"/><circle cx="796.1" cy="474.7" r="1.62"/><circle cx="796.5" cy="478.4" r="1.62"/><circle cx="795.9" cy="482.9" r="1.62"/>
</g>
<text transform="translate(768.3,372.4) scale(1.08,1)" font-family="Liberation Sans, sans-serif" font-size="25" font-weight="bold" font-style="italic" fill="#000">D</text>
<g transform="translate(0,0)">
<path d="M318.6 33.8C371 -1 446 -15.5 497.5 24" fill="none" stroke="#000" stroke-width="2"/>
<path d="M509 30.5L500.2 19.2L493.6 29.4Z" fill="#000"/>
<path d="M512.6 165.6C452 197 376 206 329 174.5" fill="none" stroke="#000" stroke-width="2"/>
<path d="M320.3 168.4L334 169.2L327.6 179Z" fill="#000"/>
<g font-family="Liberation Serif, serif" font-size="14.6" font-style="italic" fill="#262626" stroke="#262626" stroke-width=".22">
<text x="367" y="34.8" font-weight="bold" fill="#000" font-size="15.2">p</text>
<text x="374.9" y="28.6" font-size="9" font-weight="bold" font-style="normal" fill="#000" stroke="#000" stroke-width=".3">−1</text>
<text x="385.8" y="36.2" font-size="16.6" font-style="normal" transform="translate(385.8,0) scale(0.82,1) translate(-385.8,0)">(</text>
<text x="391.2" y="34.8">x</text><text x="399.6" y="34.8">,</text><text x="405.4" y="34.8">y</text><text x="413.7" y="34.8">,</text><text x="419" y="34.8">z</text>
<text x="427.2" y="36.2" font-size="16.6" font-style="normal" transform="translate(427.2,0) scale(0.82,1) translate(-427.2,0)">)</text>
<text x="432.4" y="34.8" font-style="normal">=</text>
<text x="441.4" y="36.2" font-size="16.6" font-style="normal" transform="translate(441.4,0) scale(0.82,1) translate(-441.4,0)">(</text>
<text x="446.2" y="34.8">u</text><text x="456" y="34.8">,</text><text x="460.4" y="34.8">v</text>
<text x="468.8" y="36.2" font-size="16.6" font-style="normal" transform="translate(468.8,0) scale(0.82,1) translate(-468.8,0)">)</text>
<text x="357.6" y="138.6">x</text>
<text x="364.6" y="139.1" font-size="16.6" font-style="normal" transform="translate(364.6,0) scale(0.82,1) translate(-364.6,0)">(</text>
<text x="369.6" y="138.6">u</text><text x="379.6" y="138.6">,</text><text x="384.2" y="138.6">v</text>
<text x="392.4" y="139.1" font-size="16.6" font-style="normal" transform="translate(392.4,0) scale(0.82,1) translate(-392.4,0)">)</text>
<text x="357.6" y="155.2">y</text>
<text x="364.6" y="155.7" font-size="16.6" font-style="normal" transform="translate(364.6,0) scale(0.82,1) translate(-364.6,0)">(</text>
<text x="369.6" y="155.2">u</text><text x="379.6" y="155.2">,</text><text x="384.2" y="155.2">v</text>
<text x="392.4" y="155.7" font-size="16.6" font-style="normal" transform="translate(392.4,0) scale(0.82,1) translate(-392.4,0)">)</text>
<text x="357.6" y="172">z</text>
<text x="364.6" y="172.5" font-size="16.6" font-style="normal" transform="translate(364.6,0) scale(0.82,1) translate(-364.6,0)">(</text>
<text x="369.6" y="172">u</text><text x="379.6" y="172">,</text><text x="384.2" y="172">v</text>
<text x="392.4" y="172.5" font-size="16.6" font-style="normal" transform="translate(392.4,0) scale(0.82,1) translate(-392.4,0)">)</text>
<text x="400.6" y="155.2" font-style="normal">=</text>
<text x="411.6" y="155.2" font-weight="bold" fill="#000">p</text>
<text x="420.8" y="155.7" font-size="16.6" font-style="normal" transform="translate(420.8,0) scale(0.82,1) translate(-420.8,0)">(</text>
<text x="425.6" y="155.2">u</text><text x="435.6" y="155.2">,</text><text x="440.2" y="155.2">v</text>
<text x="446.6" y="155.7" font-size="16.6" font-style="normal" transform="translate(446.6,0) scale(0.82,1) translate(-446.6,0)">)</text>
<text x="451.2" y="155.2" font-style="normal">=</text>
<text x="462.8" y="155.2" font-weight="bold" fill="#000">p</text>
<text x="472.2" y="155.7" font-size="16.6" font-style="normal" transform="translate(472.2,0) scale(0.82,1) translate(-472.2,0)">(</text>
<text x="477" y="155.2" font-weight="bold" fill="#000">w</text>
<text x="487.6" y="155.7" font-size="16.6" font-style="normal" transform="translate(487.6,0) scale(0.82,1) translate(-487.6,0)">)</text>
</g>
<path d="M355.4 123.8H352.2V177.2H355.4M395.8 123.8H399V177.2H395.8" fill="none" stroke="#222" stroke-width="1.1"/>
</g>
<g transform="translate(-8,318)">
<path d="M318.6 33.8C371 -1 446 -15.5 497.5 24" fill="none" stroke="#000" stroke-width="2"/>
<path d="M509 30.5L500.2 19.2L493.6 29.4Z" fill="#000"/>
<path d="M512.6 165.6C452 197 376 206 329 174.5" fill="none" stroke="#000" stroke-width="2"/>
<path d="M320.3 168.4L334 169.2L327.6 179Z" fill="#000"/>
<g font-family="Liberation Serif, serif" font-size="14.6" font-style="italic" fill="#262626" stroke="#262626" stroke-width=".22">
<text x="367" y="34.8" font-weight="bold" fill="#000" font-size="15.2">p</text>
<text x="374.9" y="28.6" font-size="9" font-weight="bold" font-style="normal" fill="#000" stroke="#000" stroke-width=".3">−1</text>
<text x="385.8" y="36.2" font-size="16.6" font-style="normal" transform="translate(385.8,0) scale(0.82,1) translate(-385.8,0)">(</text>
<text x="391.2" y="34.8">x</text><text x="399.6" y="34.8">,</text><text x="405.4" y="34.8">y</text><text x="413.7" y="34.8">,</text><text x="419" y="34.8">z</text>
<text x="427.2" y="36.2" font-size="16.6" font-style="normal" transform="translate(427.2,0) scale(0.82,1) translate(-427.2,0)">)</text>
<text x="432.4" y="34.8" font-style="normal">=</text>
<text x="441.4" y="36.2" font-size="16.6" font-style="normal" transform="translate(441.4,0) scale(0.82,1) translate(-441.4,0)">(</text>
<text x="446.2" y="34.8">u</text><text x="456" y="34.8">,</text><text x="460.4" y="34.8">v</text>
<text x="468.8" y="36.2" font-size="16.6" font-style="normal" transform="translate(468.8,0) scale(0.82,1) translate(-468.8,0)">)</text>
<text x="357.6" y="138.6">x</text>
<text x="364.6" y="139.1" font-size="16.6" font-style="normal" transform="translate(364.6,0) scale(0.82,1) translate(-364.6,0)">(</text>
<text x="369.6" y="138.6">u</text><text x="379.6" y="138.6">,</text><text x="384.2" y="138.6">v</text>
<text x="392.4" y="139.1" font-size="16.6" font-style="normal" transform="translate(392.4,0) scale(0.82,1) translate(-392.4,0)">)</text>
<text x="357.6" y="155.2">y</text>
<text x="364.6" y="155.7" font-size="16.6" font-style="normal" transform="translate(364.6,0) scale(0.82,1) translate(-364.6,0)">(</text>
<text x="369.6" y="155.2">u</text><text x="379.6" y="155.2">,</text><text x="384.2" y="155.2">v</text>
<text x="392.4" y="155.7" font-size="16.6" font-style="normal" transform="translate(392.4,0) scale(0.82,1) translate(-392.4,0)">)</text>
<text x="357.6" y="172">z</text>
<text x="364.6" y="172.5" font-size="16.6" font-style="normal" transform="translate(364.6,0) scale(0.82,1) translate(-364.6,0)">(</text>
<text x="369.6" y="172">u</text><text x="379.6" y="172">,</text><text x="384.2" y="172">v</text>
<text x="392.4" y="172.5" font-size="16.6" font-style="normal" transform="translate(392.4,0) scale(0.82,1) translate(-392.4,0)">)</text>
<text x="400.6" y="155.2" font-style="normal">=</text>
<text x="411.6" y="155.2" font-weight="bold" fill="#000">p</text>
<text x="420.8" y="155.7" font-size="16.6" font-style="normal" transform="translate(420.8,0) scale(0.82,1) translate(-420.8,0)">(</text>
<text x="425.6" y="155.2">u</text><text x="435.6" y="155.2">,</text><text x="440.2" y="155.2">v</text>
<text x="446.6" y="155.7" font-size="16.6" font-style="normal" transform="translate(446.6,0) scale(0.82,1) translate(-446.6,0)">)</text>
<text x="451.2" y="155.2" font-style="normal">=</text>
<text x="462.8" y="155.2" font-weight="bold" fill="#000">p</text>
<text x="472.2" y="155.7" font-size="16.6" font-style="normal" transform="translate(472.2,0) scale(0.82,1) translate(-472.2,0)">(</text>
<text x="477" y="155.2" font-weight="bold" fill="#000">w</text>
<text x="487.6" y="155.7" font-size="16.6" font-style="normal" transform="translate(487.6,0) scale(0.82,1) translate(-487.6,0)">)</text>
</g>
<path d="M355.4 123.8H352.2V177.2H355.4M395.8 123.8H399V177.2H395.8" fill="none" stroke="#222" stroke-width="1.1"/>
</g>
<path d="M283 247.6l4.6 -7M284.9 247.6l3.3 -5M286.8 247.6l2 -3M283 247.6h6" fill="none" stroke="#9a9a9a" stroke-width=".8"/>
<path d="M844.8 259.6l4.6 -7M846.7 259.6l3.3 -5M848.6 259.6l2 -3M844.8 259.6h6" fill="none" stroke="#9a9a9a" stroke-width=".8"/>
<path d="M293.3 553.4l4.6 -7M295.2 553.4l3.3 -5M297.1 553.4l2 -3M293.3 553.4h6" fill="none" stroke="#9a9a9a" stroke-width=".8"/>
<path d="M834.2 527.8l4.6 -7M836.1 527.8l3.3 -5M838 527.8l2 -3M834.2 527.8h6" fill="none" stroke="#9a9a9a" stroke-width=".8"/>
</svg>
</body></html>
